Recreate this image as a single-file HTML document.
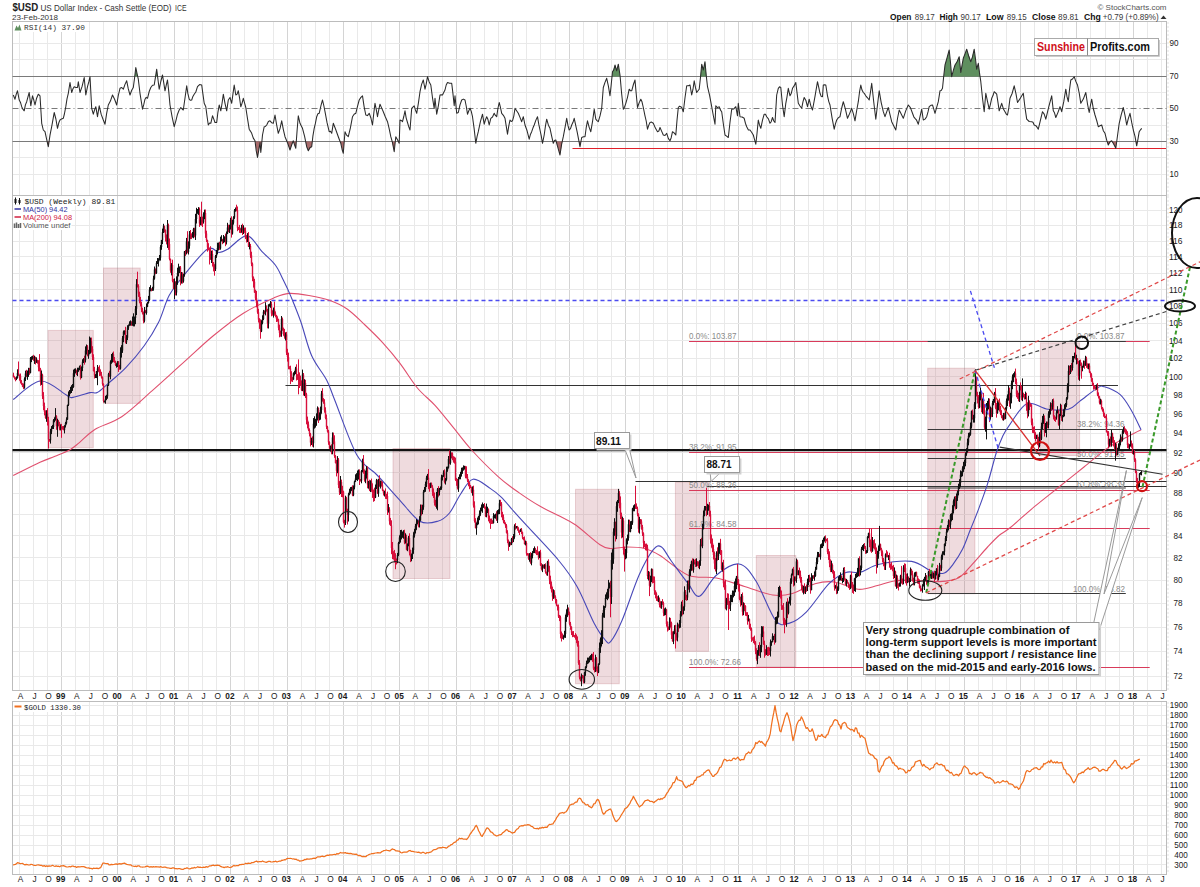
<!DOCTYPE html><html><head><meta charset="utf-8"><style>html,body{margin:0;padding:0;background:#fff;}svg{display:block;}text{font-family:"Liberation Sans",sans-serif;}</style></head><body>
<svg width="1200" height="887" viewBox="0 0 1200 887">
<rect x="0" y="0" width="1200" height="887" fill="#fff"/>
<path d="M19.5 21.5V195.5M19.5 195.5V690.5M19.5 701.5V874.5M33.5 21.5V195.5M33.5 195.5V690.5M33.5 701.5V874.5M47.5 21.5V195.5M47.5 195.5V690.5M47.5 701.5V874.5M75.5 21.5V195.5M75.5 195.5V690.5M75.5 701.5V874.5M89.5 21.5V195.5M89.5 195.5V690.5M89.5 701.5V874.5M103.5 21.5V195.5M103.5 195.5V690.5M103.5 701.5V874.5M132.5 21.5V195.5M132.5 195.5V690.5M132.5 701.5V874.5M146.5 21.5V195.5M146.5 195.5V690.5M146.5 701.5V874.5M160.5 21.5V195.5M160.5 195.5V690.5M160.5 701.5V874.5M188.5 21.5V195.5M188.5 195.5V690.5M188.5 701.5V874.5M202.5 21.5V195.5M202.5 195.5V690.5M202.5 701.5V874.5M216.5 21.5V195.5M216.5 195.5V690.5M216.5 701.5V874.5M244.5 21.5V195.5M244.5 195.5V690.5M244.5 701.5V874.5M258.5 21.5V195.5M258.5 195.5V690.5M258.5 701.5V874.5M273.5 21.5V195.5M273.5 195.5V690.5M273.5 701.5V874.5M301.5 21.5V195.5M301.5 195.5V690.5M301.5 701.5V874.5M315.5 21.5V195.5M315.5 195.5V690.5M315.5 701.5V874.5M329.5 21.5V195.5M329.5 195.5V690.5M329.5 701.5V874.5M357.5 21.5V195.5M357.5 195.5V690.5M357.5 701.5V874.5M371.5 21.5V195.5M371.5 195.5V690.5M371.5 701.5V874.5M385.5 21.5V195.5M385.5 195.5V690.5M385.5 701.5V874.5M414.5 21.5V195.5M414.5 195.5V690.5M414.5 701.5V874.5M428.5 21.5V195.5M428.5 195.5V690.5M428.5 701.5V874.5M442.5 21.5V195.5M442.5 195.5V690.5M442.5 701.5V874.5M470.5 21.5V195.5M470.5 195.5V690.5M470.5 701.5V874.5M484.5 21.5V195.5M484.5 195.5V690.5M484.5 701.5V874.5M498.5 21.5V195.5M498.5 195.5V690.5M498.5 701.5V874.5M526.5 21.5V195.5M526.5 195.5V690.5M526.5 701.5V874.5M540.5 21.5V195.5M540.5 195.5V690.5M540.5 701.5V874.5M555.5 21.5V195.5M555.5 195.5V690.5M555.5 701.5V874.5M583.5 21.5V195.5M583.5 195.5V690.5M583.5 701.5V874.5M597.5 21.5V195.5M597.5 195.5V690.5M597.5 701.5V874.5M611.5 21.5V195.5M611.5 195.5V690.5M611.5 701.5V874.5M639.5 21.5V195.5M639.5 195.5V690.5M639.5 701.5V874.5M653.5 21.5V195.5M653.5 195.5V690.5M653.5 701.5V874.5M667.5 21.5V195.5M667.5 195.5V690.5M667.5 701.5V874.5M696.5 21.5V195.5M696.5 195.5V690.5M696.5 701.5V874.5M710.5 21.5V195.5M710.5 195.5V690.5M710.5 701.5V874.5M724.5 21.5V195.5M724.5 195.5V690.5M724.5 701.5V874.5M752.5 21.5V195.5M752.5 195.5V690.5M752.5 701.5V874.5M766.5 21.5V195.5M766.5 195.5V690.5M766.5 701.5V874.5M780.5 21.5V195.5M780.5 195.5V690.5M780.5 701.5V874.5M808.5 21.5V195.5M808.5 195.5V690.5M808.5 701.5V874.5M823.5 21.5V195.5M823.5 195.5V690.5M823.5 701.5V874.5M837.5 21.5V195.5M837.5 195.5V690.5M837.5 701.5V874.5M865.5 21.5V195.5M865.5 195.5V690.5M865.5 701.5V874.5M879.5 21.5V195.5M879.5 195.5V690.5M879.5 701.5V874.5M893.5 21.5V195.5M893.5 195.5V690.5M893.5 701.5V874.5M921.5 21.5V195.5M921.5 195.5V690.5M921.5 701.5V874.5M935.5 21.5V195.5M935.5 195.5V690.5M935.5 701.5V874.5M949.5 21.5V195.5M949.5 195.5V690.5M949.5 701.5V874.5M978.5 21.5V195.5M978.5 195.5V690.5M978.5 701.5V874.5M992.5 21.5V195.5M992.5 195.5V690.5M992.5 701.5V874.5M1006.5 21.5V195.5M1006.5 195.5V690.5M1006.5 701.5V874.5M1034.5 21.5V195.5M1034.5 195.5V690.5M1034.5 701.5V874.5M1048.5 21.5V195.5M1048.5 195.5V690.5M1048.5 701.5V874.5M1062.5 21.5V195.5M1062.5 195.5V690.5M1062.5 701.5V874.5M1090.5 21.5V195.5M1090.5 195.5V690.5M1090.5 701.5V874.5M1105.5 21.5V195.5M1105.5 195.5V690.5M1105.5 701.5V874.5M1119.5 21.5V195.5M1119.5 195.5V690.5M1119.5 701.5V874.5M1147.5 21.5V195.5M1147.5 195.5V690.5M1147.5 701.5V874.5M1161.5 21.5V195.5M1161.5 195.5V690.5M1161.5 701.5V874.5" stroke="#e9e9e9" stroke-width="1" fill="none"/>
<path d="M61.5 21.5V195.5M61.5 195.5V690.5M61.5 701.5V874.5M117.5 21.5V195.5M117.5 195.5V690.5M117.5 701.5V874.5M174.5 21.5V195.5M174.5 195.5V690.5M174.5 701.5V874.5M230.5 21.5V195.5M230.5 195.5V690.5M230.5 701.5V874.5M287.5 21.5V195.5M287.5 195.5V690.5M287.5 701.5V874.5M343.5 21.5V195.5M343.5 195.5V690.5M343.5 701.5V874.5M399.5 21.5V195.5M399.5 195.5V690.5M399.5 701.5V874.5M456.5 21.5V195.5M456.5 195.5V690.5M456.5 701.5V874.5M512.5 21.5V195.5M512.5 195.5V690.5M512.5 701.5V874.5M569.5 21.5V195.5M569.5 195.5V690.5M569.5 701.5V874.5M625.5 21.5V195.5M625.5 195.5V690.5M625.5 701.5V874.5M682.5 21.5V195.5M682.5 195.5V690.5M682.5 701.5V874.5M738.5 21.5V195.5M738.5 195.5V690.5M738.5 701.5V874.5M794.5 21.5V195.5M794.5 195.5V690.5M794.5 701.5V874.5M851.5 21.5V195.5M851.5 195.5V690.5M851.5 701.5V874.5M907.5 21.5V195.5M907.5 195.5V690.5M907.5 701.5V874.5M964.5 21.5V195.5M964.5 195.5V690.5M964.5 701.5V874.5M1020.5 21.5V195.5M1020.5 195.5V690.5M1020.5 701.5V874.5M1076.5 21.5V195.5M1076.5 195.5V690.5M1076.5 701.5V874.5M1133.5 21.5V195.5M1133.5 195.5V690.5M1133.5 701.5V874.5" stroke="#d4d4d4" stroke-width="1" fill="none"/>
<path d="M12.5 174.5H1166.5M12.5 157.5H1166.5M12.5 125.5H1166.5M12.5 92.5H1166.5M12.5 59.5H1166.5M12.5 43.5H1166.5" stroke="#e9e9e9" stroke-width="1" fill="none" />
<path d="M12.5 676.5H1166.5M12.5 651.5H1166.5M12.5 627.5H1166.5M12.5 603.5H1166.5M12.5 580.5H1166.5M12.5 557.5H1166.5M12.5 535.5H1166.5M12.5 514.5H1166.5M12.5 493.5H1166.5M12.5 472.5H1166.5M12.5 452.5H1166.5M12.5 433.5H1166.5M12.5 413.5H1166.5M12.5 395.5H1166.5M12.5 376.5H1166.5M12.5 358.5H1166.5M12.5 340.5H1166.5M12.5 323.5H1166.5M12.5 306.5H1166.5M12.5 289.5H1166.5M12.5 273.5H1166.5M12.5 256.5H1166.5M12.5 241.5H1166.5M12.5 225.5H1166.5M12.5 210.5H1166.5" stroke="#e9e9e9" stroke-width="1" fill="none" />
<path d="M12.5 864.5H1166.5M12.5 855.5H1166.5M12.5 845.5H1166.5M12.5 835.5H1166.5M12.5 825.5H1166.5M12.5 815.5H1166.5M12.5 805.5H1166.5M12.5 795.5H1166.5M12.5 785.5H1166.5M12.5 775.5H1166.5M12.5 765.5H1166.5M12.5 755.5H1166.5M12.5 745.5H1166.5M12.5 735.5H1166.5M12.5 725.5H1166.5M12.5 715.5H1166.5M12.5 705.5H1166.5" stroke="#e9e9e9" stroke-width="1" fill="none" />
<rect x="12.5" y="21.5" width="1154.0" height="174.0" fill="none" stroke="#bcbcbc" stroke-width="1"/>
<rect x="12.5" y="195.5" width="1154.0" height="495.0" fill="none" stroke="#bcbcbc" stroke-width="1"/>
<rect x="12.5" y="701.5" width="1154.0" height="173.0" fill="none" stroke="#bcbcbc" stroke-width="1"/>
<path d="M1168.0 22.5V195.5" stroke="#c4c4c4" stroke-width="1" stroke-dasharray="1,3" fill="none"/>
<path d="M1168.0 196.5V690.5" stroke="#c4c4c4" stroke-width="1" stroke-dasharray="1,3" fill="none"/>
<path d="M1168.0 702.5V874.5" stroke="#c4c4c4" stroke-width="1" stroke-dasharray="1,3" fill="none"/>
<text x="12.5" y="11" font-size="11" font-weight="bold" fill="#222" transform="translate(12.5 0) scale(0.88 1) translate(-12.5 0)">$USD</text>
<text x="40.5" y="10.5" font-size="8.6" fill="#333" textLength="131" lengthAdjust="spacingAndGlyphs">US Dollar Index - Cash Settle (EOD)</text>
<text x="175" y="10.5" font-size="8.6" fill="#333" textLength="11.5" lengthAdjust="spacingAndGlyphs">ICE</text>
<text x="12" y="20" font-size="8" fill="#333" textLength="46" lengthAdjust="spacingAndGlyphs">23-Feb-2018</text>
<text x="1166.5" y="9.5" font-size="8" fill="#555" text-anchor="end" textLength="69" lengthAdjust="spacingAndGlyphs">© StockCharts.com</text>
<text x="890.1" y="20.2" font-size="8.6" fill="#111" font-weight="bold" textLength="21.4" lengthAdjust="spacingAndGlyphs">Open</text>
<text x="914.7" y="20.2" font-size="8.6" fill="#3a3a3a" textLength="20.0" lengthAdjust="spacingAndGlyphs">89.17</text>
<text x="939.5" y="20.2" font-size="8.6" fill="#111" font-weight="bold" textLength="18.4" lengthAdjust="spacingAndGlyphs">High</text>
<text x="960.5" y="20.2" font-size="8.6" fill="#3a3a3a" textLength="20.3" lengthAdjust="spacingAndGlyphs">90.17</text>
<text x="985.9" y="20.2" font-size="8.6" fill="#111" font-weight="bold" textLength="17.6" lengthAdjust="spacingAndGlyphs">Low</text>
<text x="1006.7" y="20.2" font-size="8.6" fill="#3a3a3a" textLength="20.0" lengthAdjust="spacingAndGlyphs">89.15</text>
<text x="1032.0" y="20.2" font-size="8.6" fill="#111" font-weight="bold" textLength="23.5" lengthAdjust="spacingAndGlyphs">Close</text>
<text x="1058.1" y="20.2" font-size="8.6" fill="#3a3a3a" textLength="20.6" lengthAdjust="spacingAndGlyphs">89.81</text>
<text x="1084.0" y="20.2" font-size="8.6" fill="#111" font-weight="bold" textLength="16.8" lengthAdjust="spacingAndGlyphs">Chg</text>
<text x="1102.7" y="20.2" font-size="8.6" fill="#3a3a3a" textLength="56.0" lengthAdjust="spacingAndGlyphs">+0.79 (+0.89%)</text>
<path d="M1160.5 19 L1163.5 15.5 L1166.5 19Z" fill="#333"/>
<text x="1178.5" y="46.4" font-size="8.6" text-anchor="end" fill="#1a1a1a" textLength="9.0" lengthAdjust="spacingAndGlyphs">90</text>
<text x="1178.5" y="79.4" font-size="8.6" text-anchor="end" fill="#1a1a1a" textLength="9.0" lengthAdjust="spacingAndGlyphs">70</text>
<text x="1178.5" y="111.4" font-size="8.6" text-anchor="end" fill="#1a1a1a" textLength="9.0" lengthAdjust="spacingAndGlyphs">50</text>
<text x="1178.5" y="144.4" font-size="8.6" text-anchor="end" fill="#1a1a1a" textLength="9.0" lengthAdjust="spacingAndGlyphs">30</text>
<text x="1178.5" y="177.4" font-size="8.6" text-anchor="end" fill="#1a1a1a" textLength="9.0" lengthAdjust="spacingAndGlyphs">10</text>
<text x="1182.5" y="679.4" font-size="8.6" text-anchor="end" fill="#1a1a1a" textLength="9.0" lengthAdjust="spacingAndGlyphs">72</text>
<text x="1182.5" y="654.4" font-size="8.6" text-anchor="end" fill="#1a1a1a" textLength="9.0" lengthAdjust="spacingAndGlyphs">74</text>
<text x="1182.5" y="630.0" font-size="8.6" text-anchor="end" fill="#1a1a1a" textLength="9.0" lengthAdjust="spacingAndGlyphs">76</text>
<text x="1182.5" y="606.3" font-size="8.6" text-anchor="end" fill="#1a1a1a" textLength="9.0" lengthAdjust="spacingAndGlyphs">78</text>
<text x="1182.5" y="583.2" font-size="8.6" text-anchor="end" fill="#1a1a1a" textLength="9.0" lengthAdjust="spacingAndGlyphs">80</text>
<text x="1182.5" y="560.7" font-size="8.6" text-anchor="end" fill="#1a1a1a" textLength="9.0" lengthAdjust="spacingAndGlyphs">82</text>
<text x="1182.5" y="538.7" font-size="8.6" text-anchor="end" fill="#1a1a1a" textLength="9.0" lengthAdjust="spacingAndGlyphs">84</text>
<text x="1182.5" y="517.2" font-size="8.6" text-anchor="end" fill="#1a1a1a" textLength="9.0" lengthAdjust="spacingAndGlyphs">86</text>
<text x="1182.5" y="496.2" font-size="8.6" text-anchor="end" fill="#1a1a1a" textLength="9.0" lengthAdjust="spacingAndGlyphs">88</text>
<text x="1182.5" y="475.7" font-size="8.6" text-anchor="end" fill="#1a1a1a" textLength="9.0" lengthAdjust="spacingAndGlyphs">90</text>
<text x="1182.5" y="455.6" font-size="8.6" text-anchor="end" fill="#1a1a1a" textLength="9.0" lengthAdjust="spacingAndGlyphs">92</text>
<text x="1182.5" y="436.0" font-size="8.6" text-anchor="end" fill="#1a1a1a" textLength="9.0" lengthAdjust="spacingAndGlyphs">94</text>
<text x="1182.5" y="416.7" font-size="8.6" text-anchor="end" fill="#1a1a1a" textLength="9.0" lengthAdjust="spacingAndGlyphs">96</text>
<text x="1182.5" y="397.9" font-size="8.6" text-anchor="end" fill="#1a1a1a" textLength="9.0" lengthAdjust="spacingAndGlyphs">98</text>
<text x="1182.5" y="379.5" font-size="8.6" text-anchor="end" fill="#1a1a1a" textLength="13.5" lengthAdjust="spacingAndGlyphs">100</text>
<text x="1182.5" y="361.4" font-size="8.6" text-anchor="end" fill="#1a1a1a" textLength="13.5" lengthAdjust="spacingAndGlyphs">102</text>
<text x="1182.5" y="343.7" font-size="8.6" text-anchor="end" fill="#1a1a1a" textLength="13.5" lengthAdjust="spacingAndGlyphs">104</text>
<text x="1182.5" y="326.3" font-size="8.6" text-anchor="end" fill="#1a1a1a" textLength="13.5" lengthAdjust="spacingAndGlyphs">106</text>
<text x="1182.5" y="309.2" font-size="8.6" text-anchor="end" fill="#1a1a1a" textLength="13.5" lengthAdjust="spacingAndGlyphs">108</text>
<text x="1182.5" y="292.5" font-size="8.6" text-anchor="end" fill="#1a1a1a" textLength="13.5" lengthAdjust="spacingAndGlyphs">110</text>
<text x="1182.5" y="276.0" font-size="8.6" text-anchor="end" fill="#1a1a1a" textLength="13.5" lengthAdjust="spacingAndGlyphs">112</text>
<text x="1182.5" y="259.8" font-size="8.6" text-anchor="end" fill="#1a1a1a" textLength="13.5" lengthAdjust="spacingAndGlyphs">114</text>
<text x="1182.5" y="244.0" font-size="8.6" text-anchor="end" fill="#1a1a1a" textLength="13.5" lengthAdjust="spacingAndGlyphs">116</text>
<text x="1182.5" y="228.4" font-size="8.6" text-anchor="end" fill="#1a1a1a" textLength="13.5" lengthAdjust="spacingAndGlyphs">118</text>
<text x="1182.5" y="213.0" font-size="8.6" text-anchor="end" fill="#1a1a1a" textLength="13.5" lengthAdjust="spacingAndGlyphs">120</text>
<text x="1187.8" y="867.9" font-size="8.6" text-anchor="end" fill="#1a1a1a" textLength="13.5" lengthAdjust="spacingAndGlyphs">300</text>
<text x="1187.8" y="857.9" font-size="8.6" text-anchor="end" fill="#1a1a1a" textLength="13.5" lengthAdjust="spacingAndGlyphs">400</text>
<text x="1187.8" y="847.9" font-size="8.6" text-anchor="end" fill="#1a1a1a" textLength="13.5" lengthAdjust="spacingAndGlyphs">500</text>
<text x="1187.8" y="837.9" font-size="8.6" text-anchor="end" fill="#1a1a1a" textLength="13.5" lengthAdjust="spacingAndGlyphs">600</text>
<text x="1187.8" y="828.0" font-size="8.6" text-anchor="end" fill="#1a1a1a" textLength="13.5" lengthAdjust="spacingAndGlyphs">700</text>
<text x="1187.8" y="818.0" font-size="8.6" text-anchor="end" fill="#1a1a1a" textLength="13.5" lengthAdjust="spacingAndGlyphs">800</text>
<text x="1187.8" y="808.0" font-size="8.6" text-anchor="end" fill="#1a1a1a" textLength="13.5" lengthAdjust="spacingAndGlyphs">900</text>
<text x="1187.8" y="798.0" font-size="8.6" text-anchor="end" fill="#1a1a1a" textLength="18.0" lengthAdjust="spacingAndGlyphs">1000</text>
<text x="1187.8" y="788.0" font-size="8.6" text-anchor="end" fill="#1a1a1a" textLength="18.0" lengthAdjust="spacingAndGlyphs">1100</text>
<text x="1187.8" y="778.1" font-size="8.6" text-anchor="end" fill="#1a1a1a" textLength="18.0" lengthAdjust="spacingAndGlyphs">1200</text>
<text x="1187.8" y="768.1" font-size="8.6" text-anchor="end" fill="#1a1a1a" textLength="18.0" lengthAdjust="spacingAndGlyphs">1300</text>
<text x="1187.8" y="758.1" font-size="8.6" text-anchor="end" fill="#1a1a1a" textLength="18.0" lengthAdjust="spacingAndGlyphs">1400</text>
<text x="1187.8" y="748.1" font-size="8.6" text-anchor="end" fill="#1a1a1a" textLength="18.0" lengthAdjust="spacingAndGlyphs">1500</text>
<text x="1187.8" y="738.1" font-size="8.6" text-anchor="end" fill="#1a1a1a" textLength="18.0" lengthAdjust="spacingAndGlyphs">1600</text>
<text x="1187.8" y="728.2" font-size="8.6" text-anchor="end" fill="#1a1a1a" textLength="18.0" lengthAdjust="spacingAndGlyphs">1700</text>
<text x="1187.8" y="718.2" font-size="8.6" text-anchor="end" fill="#1a1a1a" textLength="18.0" lengthAdjust="spacingAndGlyphs">1800</text>
<text x="1187.8" y="708.2" font-size="8.6" text-anchor="end" fill="#1a1a1a" textLength="18.0" lengthAdjust="spacingAndGlyphs">1900</text>
<text x="20.4" y="698.5" font-size="8.3" text-anchor="middle" fill="#1a1a1a">A</text>
<text x="20.4" y="882.0" font-size="8.3" text-anchor="middle" fill="#1a1a1a">A</text>
<text x="34.5" y="698.5" font-size="8.3" text-anchor="middle" fill="#1a1a1a">J</text>
<text x="34.5" y="882.0" font-size="8.3" text-anchor="middle" fill="#1a1a1a">J</text>
<text x="48.6" y="698.5" font-size="8.3" text-anchor="middle" fill="#1a1a1a">O</text>
<text x="48.6" y="882.0" font-size="8.3" text-anchor="middle" fill="#1a1a1a">O</text>
<text x="60.7" y="698.5" font-size="8.3" text-anchor="middle" fill="#1a1a1a" font-weight="bold">99</text>
<text x="60.7" y="882.0" font-size="8.3" text-anchor="middle" fill="#1a1a1a" font-weight="bold">99</text>
<text x="76.8" y="698.5" font-size="8.3" text-anchor="middle" fill="#1a1a1a">A</text>
<text x="76.8" y="882.0" font-size="8.3" text-anchor="middle" fill="#1a1a1a">A</text>
<text x="90.9" y="698.5" font-size="8.3" text-anchor="middle" fill="#1a1a1a">J</text>
<text x="90.9" y="882.0" font-size="8.3" text-anchor="middle" fill="#1a1a1a">J</text>
<text x="105.0" y="698.5" font-size="8.3" text-anchor="middle" fill="#1a1a1a">O</text>
<text x="105.0" y="882.0" font-size="8.3" text-anchor="middle" fill="#1a1a1a">O</text>
<text x="117.1" y="698.5" font-size="8.3" text-anchor="middle" fill="#1a1a1a" font-weight="bold">00</text>
<text x="117.1" y="882.0" font-size="8.3" text-anchor="middle" fill="#1a1a1a" font-weight="bold">00</text>
<text x="133.2" y="698.5" font-size="8.3" text-anchor="middle" fill="#1a1a1a">A</text>
<text x="133.2" y="882.0" font-size="8.3" text-anchor="middle" fill="#1a1a1a">A</text>
<text x="147.3" y="698.5" font-size="8.3" text-anchor="middle" fill="#1a1a1a">J</text>
<text x="147.3" y="882.0" font-size="8.3" text-anchor="middle" fill="#1a1a1a">J</text>
<text x="161.4" y="698.5" font-size="8.3" text-anchor="middle" fill="#1a1a1a">O</text>
<text x="161.4" y="882.0" font-size="8.3" text-anchor="middle" fill="#1a1a1a">O</text>
<text x="173.5" y="698.5" font-size="8.3" text-anchor="middle" fill="#1a1a1a" font-weight="bold">01</text>
<text x="173.5" y="882.0" font-size="8.3" text-anchor="middle" fill="#1a1a1a" font-weight="bold">01</text>
<text x="189.6" y="698.5" font-size="8.3" text-anchor="middle" fill="#1a1a1a">A</text>
<text x="189.6" y="882.0" font-size="8.3" text-anchor="middle" fill="#1a1a1a">A</text>
<text x="203.7" y="698.5" font-size="8.3" text-anchor="middle" fill="#1a1a1a">J</text>
<text x="203.7" y="882.0" font-size="8.3" text-anchor="middle" fill="#1a1a1a">J</text>
<text x="217.8" y="698.5" font-size="8.3" text-anchor="middle" fill="#1a1a1a">O</text>
<text x="217.8" y="882.0" font-size="8.3" text-anchor="middle" fill="#1a1a1a">O</text>
<text x="229.9" y="698.5" font-size="8.3" text-anchor="middle" fill="#1a1a1a" font-weight="bold">02</text>
<text x="229.9" y="882.0" font-size="8.3" text-anchor="middle" fill="#1a1a1a" font-weight="bold">02</text>
<text x="246.0" y="698.5" font-size="8.3" text-anchor="middle" fill="#1a1a1a">A</text>
<text x="246.0" y="882.0" font-size="8.3" text-anchor="middle" fill="#1a1a1a">A</text>
<text x="260.1" y="698.5" font-size="8.3" text-anchor="middle" fill="#1a1a1a">J</text>
<text x="260.1" y="882.0" font-size="8.3" text-anchor="middle" fill="#1a1a1a">J</text>
<text x="274.2" y="698.5" font-size="8.3" text-anchor="middle" fill="#1a1a1a">O</text>
<text x="274.2" y="882.0" font-size="8.3" text-anchor="middle" fill="#1a1a1a">O</text>
<text x="286.3" y="698.5" font-size="8.3" text-anchor="middle" fill="#1a1a1a" font-weight="bold">03</text>
<text x="286.3" y="882.0" font-size="8.3" text-anchor="middle" fill="#1a1a1a" font-weight="bold">03</text>
<text x="302.4" y="698.5" font-size="8.3" text-anchor="middle" fill="#1a1a1a">A</text>
<text x="302.4" y="882.0" font-size="8.3" text-anchor="middle" fill="#1a1a1a">A</text>
<text x="316.5" y="698.5" font-size="8.3" text-anchor="middle" fill="#1a1a1a">J</text>
<text x="316.5" y="882.0" font-size="8.3" text-anchor="middle" fill="#1a1a1a">J</text>
<text x="330.6" y="698.5" font-size="8.3" text-anchor="middle" fill="#1a1a1a">O</text>
<text x="330.6" y="882.0" font-size="8.3" text-anchor="middle" fill="#1a1a1a">O</text>
<text x="342.7" y="698.5" font-size="8.3" text-anchor="middle" fill="#1a1a1a" font-weight="bold">04</text>
<text x="342.7" y="882.0" font-size="8.3" text-anchor="middle" fill="#1a1a1a" font-weight="bold">04</text>
<text x="358.9" y="698.5" font-size="8.3" text-anchor="middle" fill="#1a1a1a">A</text>
<text x="358.9" y="882.0" font-size="8.3" text-anchor="middle" fill="#1a1a1a">A</text>
<text x="373.0" y="698.5" font-size="8.3" text-anchor="middle" fill="#1a1a1a">J</text>
<text x="373.0" y="882.0" font-size="8.3" text-anchor="middle" fill="#1a1a1a">J</text>
<text x="387.1" y="698.5" font-size="8.3" text-anchor="middle" fill="#1a1a1a">O</text>
<text x="387.1" y="882.0" font-size="8.3" text-anchor="middle" fill="#1a1a1a">O</text>
<text x="399.2" y="698.5" font-size="8.3" text-anchor="middle" fill="#1a1a1a" font-weight="bold">05</text>
<text x="399.2" y="882.0" font-size="8.3" text-anchor="middle" fill="#1a1a1a" font-weight="bold">05</text>
<text x="415.3" y="698.5" font-size="8.3" text-anchor="middle" fill="#1a1a1a">A</text>
<text x="415.3" y="882.0" font-size="8.3" text-anchor="middle" fill="#1a1a1a">A</text>
<text x="429.4" y="698.5" font-size="8.3" text-anchor="middle" fill="#1a1a1a">J</text>
<text x="429.4" y="882.0" font-size="8.3" text-anchor="middle" fill="#1a1a1a">J</text>
<text x="443.5" y="698.5" font-size="8.3" text-anchor="middle" fill="#1a1a1a">O</text>
<text x="443.5" y="882.0" font-size="8.3" text-anchor="middle" fill="#1a1a1a">O</text>
<text x="455.6" y="698.5" font-size="8.3" text-anchor="middle" fill="#1a1a1a" font-weight="bold">06</text>
<text x="455.6" y="882.0" font-size="8.3" text-anchor="middle" fill="#1a1a1a" font-weight="bold">06</text>
<text x="471.7" y="698.5" font-size="8.3" text-anchor="middle" fill="#1a1a1a">A</text>
<text x="471.7" y="882.0" font-size="8.3" text-anchor="middle" fill="#1a1a1a">A</text>
<text x="485.8" y="698.5" font-size="8.3" text-anchor="middle" fill="#1a1a1a">J</text>
<text x="485.8" y="882.0" font-size="8.3" text-anchor="middle" fill="#1a1a1a">J</text>
<text x="499.9" y="698.5" font-size="8.3" text-anchor="middle" fill="#1a1a1a">O</text>
<text x="499.9" y="882.0" font-size="8.3" text-anchor="middle" fill="#1a1a1a">O</text>
<text x="512.0" y="698.5" font-size="8.3" text-anchor="middle" fill="#1a1a1a" font-weight="bold">07</text>
<text x="512.0" y="882.0" font-size="8.3" text-anchor="middle" fill="#1a1a1a" font-weight="bold">07</text>
<text x="528.1" y="698.5" font-size="8.3" text-anchor="middle" fill="#1a1a1a">A</text>
<text x="528.1" y="882.0" font-size="8.3" text-anchor="middle" fill="#1a1a1a">A</text>
<text x="542.2" y="698.5" font-size="8.3" text-anchor="middle" fill="#1a1a1a">J</text>
<text x="542.2" y="882.0" font-size="8.3" text-anchor="middle" fill="#1a1a1a">J</text>
<text x="556.3" y="698.5" font-size="8.3" text-anchor="middle" fill="#1a1a1a">O</text>
<text x="556.3" y="882.0" font-size="8.3" text-anchor="middle" fill="#1a1a1a">O</text>
<text x="568.4" y="698.5" font-size="8.3" text-anchor="middle" fill="#1a1a1a" font-weight="bold">08</text>
<text x="568.4" y="882.0" font-size="8.3" text-anchor="middle" fill="#1a1a1a" font-weight="bold">08</text>
<text x="584.5" y="698.5" font-size="8.3" text-anchor="middle" fill="#1a1a1a">A</text>
<text x="584.5" y="882.0" font-size="8.3" text-anchor="middle" fill="#1a1a1a">A</text>
<text x="598.6" y="698.5" font-size="8.3" text-anchor="middle" fill="#1a1a1a">J</text>
<text x="598.6" y="882.0" font-size="8.3" text-anchor="middle" fill="#1a1a1a">J</text>
<text x="612.7" y="698.5" font-size="8.3" text-anchor="middle" fill="#1a1a1a">O</text>
<text x="612.7" y="882.0" font-size="8.3" text-anchor="middle" fill="#1a1a1a">O</text>
<text x="624.8" y="698.5" font-size="8.3" text-anchor="middle" fill="#1a1a1a" font-weight="bold">09</text>
<text x="624.8" y="882.0" font-size="8.3" text-anchor="middle" fill="#1a1a1a" font-weight="bold">09</text>
<text x="640.9" y="698.5" font-size="8.3" text-anchor="middle" fill="#1a1a1a">A</text>
<text x="640.9" y="882.0" font-size="8.3" text-anchor="middle" fill="#1a1a1a">A</text>
<text x="655.0" y="698.5" font-size="8.3" text-anchor="middle" fill="#1a1a1a">J</text>
<text x="655.0" y="882.0" font-size="8.3" text-anchor="middle" fill="#1a1a1a">J</text>
<text x="669.1" y="698.5" font-size="8.3" text-anchor="middle" fill="#1a1a1a">O</text>
<text x="669.1" y="882.0" font-size="8.3" text-anchor="middle" fill="#1a1a1a">O</text>
<text x="681.2" y="698.5" font-size="8.3" text-anchor="middle" fill="#1a1a1a" font-weight="bold">10</text>
<text x="681.2" y="882.0" font-size="8.3" text-anchor="middle" fill="#1a1a1a" font-weight="bold">10</text>
<text x="697.3" y="698.5" font-size="8.3" text-anchor="middle" fill="#1a1a1a">A</text>
<text x="697.3" y="882.0" font-size="8.3" text-anchor="middle" fill="#1a1a1a">A</text>
<text x="711.4" y="698.5" font-size="8.3" text-anchor="middle" fill="#1a1a1a">J</text>
<text x="711.4" y="882.0" font-size="8.3" text-anchor="middle" fill="#1a1a1a">J</text>
<text x="725.5" y="698.5" font-size="8.3" text-anchor="middle" fill="#1a1a1a">O</text>
<text x="725.5" y="882.0" font-size="8.3" text-anchor="middle" fill="#1a1a1a">O</text>
<text x="737.6" y="698.5" font-size="8.3" text-anchor="middle" fill="#1a1a1a" font-weight="bold">11</text>
<text x="737.6" y="882.0" font-size="8.3" text-anchor="middle" fill="#1a1a1a" font-weight="bold">11</text>
<text x="753.7" y="698.5" font-size="8.3" text-anchor="middle" fill="#1a1a1a">A</text>
<text x="753.7" y="882.0" font-size="8.3" text-anchor="middle" fill="#1a1a1a">A</text>
<text x="767.8" y="698.5" font-size="8.3" text-anchor="middle" fill="#1a1a1a">J</text>
<text x="767.8" y="882.0" font-size="8.3" text-anchor="middle" fill="#1a1a1a">J</text>
<text x="781.9" y="698.5" font-size="8.3" text-anchor="middle" fill="#1a1a1a">O</text>
<text x="781.9" y="882.0" font-size="8.3" text-anchor="middle" fill="#1a1a1a">O</text>
<text x="794.0" y="698.5" font-size="8.3" text-anchor="middle" fill="#1a1a1a" font-weight="bold">12</text>
<text x="794.0" y="882.0" font-size="8.3" text-anchor="middle" fill="#1a1a1a" font-weight="bold">12</text>
<text x="810.1" y="698.5" font-size="8.3" text-anchor="middle" fill="#1a1a1a">A</text>
<text x="810.1" y="882.0" font-size="8.3" text-anchor="middle" fill="#1a1a1a">A</text>
<text x="824.2" y="698.5" font-size="8.3" text-anchor="middle" fill="#1a1a1a">J</text>
<text x="824.2" y="882.0" font-size="8.3" text-anchor="middle" fill="#1a1a1a">J</text>
<text x="838.3" y="698.5" font-size="8.3" text-anchor="middle" fill="#1a1a1a">O</text>
<text x="838.3" y="882.0" font-size="8.3" text-anchor="middle" fill="#1a1a1a">O</text>
<text x="850.4" y="698.5" font-size="8.3" text-anchor="middle" fill="#1a1a1a" font-weight="bold">13</text>
<text x="850.4" y="882.0" font-size="8.3" text-anchor="middle" fill="#1a1a1a" font-weight="bold">13</text>
<text x="866.5" y="698.5" font-size="8.3" text-anchor="middle" fill="#1a1a1a">A</text>
<text x="866.5" y="882.0" font-size="8.3" text-anchor="middle" fill="#1a1a1a">A</text>
<text x="880.6" y="698.5" font-size="8.3" text-anchor="middle" fill="#1a1a1a">J</text>
<text x="880.6" y="882.0" font-size="8.3" text-anchor="middle" fill="#1a1a1a">J</text>
<text x="894.7" y="698.5" font-size="8.3" text-anchor="middle" fill="#1a1a1a">O</text>
<text x="894.7" y="882.0" font-size="8.3" text-anchor="middle" fill="#1a1a1a">O</text>
<text x="906.9" y="698.5" font-size="8.3" text-anchor="middle" fill="#1a1a1a" font-weight="bold">14</text>
<text x="906.9" y="882.0" font-size="8.3" text-anchor="middle" fill="#1a1a1a" font-weight="bold">14</text>
<text x="923.0" y="698.5" font-size="8.3" text-anchor="middle" fill="#1a1a1a">A</text>
<text x="923.0" y="882.0" font-size="8.3" text-anchor="middle" fill="#1a1a1a">A</text>
<text x="937.1" y="698.5" font-size="8.3" text-anchor="middle" fill="#1a1a1a">J</text>
<text x="937.1" y="882.0" font-size="8.3" text-anchor="middle" fill="#1a1a1a">J</text>
<text x="951.2" y="698.5" font-size="8.3" text-anchor="middle" fill="#1a1a1a">O</text>
<text x="951.2" y="882.0" font-size="8.3" text-anchor="middle" fill="#1a1a1a">O</text>
<text x="963.3" y="698.5" font-size="8.3" text-anchor="middle" fill="#1a1a1a" font-weight="bold">15</text>
<text x="963.3" y="882.0" font-size="8.3" text-anchor="middle" fill="#1a1a1a" font-weight="bold">15</text>
<text x="979.4" y="698.5" font-size="8.3" text-anchor="middle" fill="#1a1a1a">A</text>
<text x="979.4" y="882.0" font-size="8.3" text-anchor="middle" fill="#1a1a1a">A</text>
<text x="993.5" y="698.5" font-size="8.3" text-anchor="middle" fill="#1a1a1a">J</text>
<text x="993.5" y="882.0" font-size="8.3" text-anchor="middle" fill="#1a1a1a">J</text>
<text x="1007.6" y="698.5" font-size="8.3" text-anchor="middle" fill="#1a1a1a">O</text>
<text x="1007.6" y="882.0" font-size="8.3" text-anchor="middle" fill="#1a1a1a">O</text>
<text x="1019.7" y="698.5" font-size="8.3" text-anchor="middle" fill="#1a1a1a" font-weight="bold">16</text>
<text x="1019.7" y="882.0" font-size="8.3" text-anchor="middle" fill="#1a1a1a" font-weight="bold">16</text>
<text x="1035.8" y="698.5" font-size="8.3" text-anchor="middle" fill="#1a1a1a">A</text>
<text x="1035.8" y="882.0" font-size="8.3" text-anchor="middle" fill="#1a1a1a">A</text>
<text x="1049.9" y="698.5" font-size="8.3" text-anchor="middle" fill="#1a1a1a">J</text>
<text x="1049.9" y="882.0" font-size="8.3" text-anchor="middle" fill="#1a1a1a">J</text>
<text x="1064.0" y="698.5" font-size="8.3" text-anchor="middle" fill="#1a1a1a">O</text>
<text x="1064.0" y="882.0" font-size="8.3" text-anchor="middle" fill="#1a1a1a">O</text>
<text x="1076.1" y="698.5" font-size="8.3" text-anchor="middle" fill="#1a1a1a" font-weight="bold">17</text>
<text x="1076.1" y="882.0" font-size="8.3" text-anchor="middle" fill="#1a1a1a" font-weight="bold">17</text>
<text x="1092.2" y="698.5" font-size="8.3" text-anchor="middle" fill="#1a1a1a">A</text>
<text x="1092.2" y="882.0" font-size="8.3" text-anchor="middle" fill="#1a1a1a">A</text>
<text x="1106.3" y="698.5" font-size="8.3" text-anchor="middle" fill="#1a1a1a">J</text>
<text x="1106.3" y="882.0" font-size="8.3" text-anchor="middle" fill="#1a1a1a">J</text>
<text x="1120.4" y="698.5" font-size="8.3" text-anchor="middle" fill="#1a1a1a">O</text>
<text x="1120.4" y="882.0" font-size="8.3" text-anchor="middle" fill="#1a1a1a">O</text>
<text x="1132.5" y="698.5" font-size="8.3" text-anchor="middle" fill="#1a1a1a" font-weight="bold">18</text>
<text x="1132.5" y="882.0" font-size="8.3" text-anchor="middle" fill="#1a1a1a" font-weight="bold">18</text>
<text x="1148.6" y="698.5" font-size="8.3" text-anchor="middle" fill="#1a1a1a">A</text>
<text x="1148.6" y="882.0" font-size="8.3" text-anchor="middle" fill="#1a1a1a">A</text>
<text x="1162.7" y="698.5" font-size="8.3" text-anchor="middle" fill="#1a1a1a">J</text>
<text x="1162.7" y="882.0" font-size="8.3" text-anchor="middle" fill="#1a1a1a">J</text>
<path d="M12.5 76.5H1166.5 M12.5 141.5H1166.5" stroke="#7a7a7a" stroke-width="1" fill="none"/>
<path d="M12.5 108.5H1166.5" stroke="#7a7a7a" stroke-width="1" stroke-dasharray="6,3,1,3" fill="none"/>
<path d="M572.5 148.5H1166" stroke="#e0202a" stroke-width="1.2" fill="none"/>
<polygon points="134.7,76.5 135.8,67.5 137.7,76.5" fill="#5f8f5f"/>
<polygon points="155.5,76.5 156.7,69.2 157.6,76.5" fill="#5f8f5f"/>
<polygon points="162.2,76.5 162.5,75.0 162.7,76.5" fill="#5f8f5f"/>
<polygon points="612.0,76.5 612.5,71.7 615.0,65.0 616.7,70.8 618.3,64.2 620.0,75.0 620.1,76.5" fill="#5f8f5f"/>
<polygon points="700.5,76.5 701.7,64.2 703.3,70.0 705.0,61.7 706.5,76.5" fill="#5f8f5f"/>
<polygon points="943.8,76.5 945.0,65.0 949.2,50.0 951.7,76.5" fill="#5f8f5f"/>
<polygon points="951.8,76.5 955.0,65.0 959.2,56.7 960.8,72.5 963.3,58.3 966.7,49.2 970.8,61.7 974.2,49.2 976.7,69.2 978.3,63.3 980.1,76.5" fill="#5f8f5f"/>
<polygon points="47.2,141.5 48.3,146.7 49.2,141.5" fill="#a86a6a"/>
<polygon points="255.1,141.5 257.5,157.5 260.0,142.5 260.8,152.5 261.9,141.5" fill="#a86a6a"/>
<polygon points="286.8,141.5 290.0,150.0 293.0,141.5" fill="#a86a6a"/>
<polygon points="293.5,141.5 295.8,148.3 296.3,141.5" fill="#a86a6a"/>
<polygon points="305.5,141.5 306.7,146.7 308.3,150.8 311.7,146.7 312.4,141.5" fill="#a86a6a"/>
<polygon points="340.1,141.5 340.8,143.3 343.3,153.3 344.2,141.5" fill="#a86a6a"/>
<polygon points="391.9,141.5 394.2,151.7 395.3,141.5" fill="#a86a6a"/>
<polygon points="398.3,141.5 399.2,143.3 399.3,141.5" fill="#a86a6a"/>
<polygon points="475.6,141.5 475.8,143.3 476.2,141.5" fill="#a86a6a"/>
<polygon points="542.2,141.5 542.5,143.3 542.9,141.5" fill="#a86a6a"/>
<polygon points="552.9,141.5 553.3,143.3 554.7,141.5" fill="#a86a6a"/>
<polygon points="556.2,141.5 560.0,155.0 562.4,141.5" fill="#a86a6a"/>
<polygon points="578.9,141.5 580.0,146.7 581.0,141.5" fill="#a86a6a"/>
<polygon points="755.1,141.5 755.8,144.2 756.1,141.5" fill="#a86a6a"/>
<polygon points="1107.3,141.5 1108.3,145.0 1111.1,141.5" fill="#a86a6a"/>
<polygon points="1112.1,141.5 1115.8,148.3 1116.7,141.5" fill="#a86a6a"/>
<polygon points="1135.8,141.5 1136.7,145.8 1137.5,141.5" fill="#a86a6a"/>
<polyline points="13.3,95.0 15.0,99.2 16.2,94.4 17.5,90.8 19.2,100.0 20.4,102.2 21.7,106.7 22.9,109.2 24.2,110.8 25.4,104.9 26.7,101.7 27.9,97.2 29.2,92.5 30.8,105.8 32.5,95.8 33.8,100.0 35.0,105.0 36.6,98.2 38.3,94.2 40.0,95.8 41.7,123.3 43.3,130.0 45.0,131.7 46.6,139.2 48.3,146.7 50.0,135.2 51.7,126.7 53.0,119.4 54.2,112.5 55.9,119.0 57.5,128.3 58.8,122.8 60.0,120.0 61.6,118.9 63.3,118.3 64.5,113.5 65.8,106.7 67.0,98.8 68.3,93.3 70.0,82.5 71.7,92.5 73.0,88.7 74.2,86.7 75.8,87.5 77.5,87.5 78.3,81.7 80.0,92.5 82.1,86.4 84.2,77.5 85.8,95.0 87.5,86.7 88.8,81.9 90.0,76.7 91.7,108.3 93.3,114.2 94.5,110.1 95.8,106.7 97.5,116.7 99.2,105.8 101.2,114.4 103.3,120.0 105.0,124.2 106.7,113.1 108.3,105.0 110.4,101.1 112.5,95.0 114.6,99.3 116.7,105.0 118.3,95.5 120.0,88.3 121.7,87.5 123.3,89.2 125.0,84.4 126.7,80.8 128.3,88.9 130.0,95.0 131.7,90.2 133.3,87.5 134.6,77.8 135.8,67.5 137.1,73.8 138.3,79.2 140.0,93.3 141.2,100.8 142.5,109.2 143.8,104.4 145.0,99.2 146.2,97.4 147.5,98.3 149.2,91.5 150.8,87.5 152.5,85.3 154.2,85.0 155.4,77.7 156.7,69.2 157.9,79.0 159.2,89.2 160.8,81.5 162.5,75.0 163.8,83.2 165.0,90.8 166.2,85.3 167.5,80.0 168.8,91.9 170.0,105.0 172.1,116.8 174.2,126.7 175.8,121.1 177.5,114.2 179.2,110.0 180.8,107.5 182.1,109.0 183.3,110.0 185.0,98.0 186.7,85.8 187.9,93.7 189.2,99.2 190.4,100.3 191.7,100.0 192.9,96.4 194.2,94.2 195.8,92.0 197.5,86.7 199.6,84.6 201.7,85.0 202.9,93.9 204.2,103.3 205.8,106.7 207.1,116.7 208.3,125.0 209.6,123.0 210.8,123.3 212.5,115.8 213.8,119.1 215.0,122.5 216.7,122.5 217.9,112.3 219.2,105.0 220.8,110.8 222.1,103.0 223.3,94.2 225.0,103.3 226.7,110.8 228.3,100.0 230.0,97.5 231.7,103.3 232.9,94.4 234.2,85.0 235.8,95.0 237.1,94.1 238.3,90.8 239.6,98.2 240.8,106.7 242.1,103.1 243.3,98.3 244.6,103.2 245.8,107.5 247.5,118.6 249.2,129.2 250.4,131.1 251.7,133.3 253.3,138.1 255.0,140.8 256.2,150.6 257.5,157.5 258.8,149.9 260.0,142.5 260.8,152.5 262.5,135.0 264.2,126.7 265.4,126.4 266.7,125.0 268.4,121.5 270.0,120.8 271.6,122.7 273.3,123.3 275.0,115.0 276.6,124.6 278.3,133.3 280.0,128.6 281.7,120.8 283.4,129.8 285.0,136.7 287.5,142.7 290.0,150.0 291.6,145.0 293.3,140.8 294.6,145.1 295.8,148.3 297.1,130.5 298.3,115.8 300.0,123.3 301.2,125.7 302.5,128.3 304.6,136.4 306.7,146.7 308.3,150.8 310.0,147.5 311.7,146.7 312.9,136.1 314.2,128.3 315.4,123.4 316.7,116.7 317.9,113.8 319.2,113.3 320.9,105.8 322.5,100.0 323.8,105.5 325.0,111.7 327.1,122.9 329.2,131.7 330.4,131.2 331.7,133.3 333.3,123.3 335.8,129.8 338.3,136.7 339.6,140.2 340.8,143.3 342.1,149.5 343.3,153.3 345.0,131.7 346.6,135.2 348.3,136.7 350.4,127.9 352.5,116.7 354.1,114.3 355.8,113.3 357.5,106.4 359.2,100.0 360.9,97.4 362.5,95.8 364.1,106.6 365.8,115.0 367.5,115.6 369.2,113.3 370.9,118.0 372.5,125.0 373.8,113.1 375.0,103.3 376.2,109.1 377.5,116.7 378.8,109.6 380.0,104.2 381.6,107.9 383.3,111.7 385.4,117.0 387.5,121.7 389.1,128.4 390.8,136.7 392.5,142.6 394.2,151.7 395.8,136.7 397.5,139.7 399.2,143.3 400.0,120.0 401.2,120.4 402.5,121.7 403.8,116.5 405.0,110.8 406.2,118.1 407.5,122.5 408.8,126.9 410.0,130.0 411.7,108.3 412.9,107.1 414.2,105.8 415.4,109.9 416.7,113.3 418.4,103.1 420.0,91.7 421.6,84.4 423.3,80.0 425.0,89.2 426.2,84.2 427.5,76.7 429.1,81.7 430.8,85.0 432.5,97.8 434.2,108.3 435.0,98.3 436.7,114.2 438.4,105.6 440.0,95.0 441.2,94.7 442.5,95.0 443.8,92.2 445.0,90.0 446.2,85.0 447.5,82.5 449.6,83.3 451.7,83.3 452.9,93.1 454.2,105.8 455.0,95.8 456.7,113.3 458.3,112.5 460.0,104.9 461.7,100.0 463.4,99.1 465.0,100.0 466.2,106.0 467.5,114.2 468.8,110.7 470.0,108.3 471.2,111.1 472.5,116.7 474.1,128.4 475.8,143.3 477.1,136.4 478.3,131.7 480.4,121.7 482.5,114.2 484.2,124.2 485.4,120.0 486.7,116.7 487.9,119.3 489.2,125.0 490.8,118.3 492.5,117.0 494.2,113.3 495.4,115.4 496.7,116.7 497.9,108.5 499.2,102.5 500.4,107.1 501.7,113.3 503.4,115.3 505.0,118.3 506.2,125.8 507.5,134.2 508.8,125.9 510.0,120.0 511.2,121.5 512.5,120.8 513.8,116.1 515.0,108.3 516.6,110.7 518.3,113.3 520.0,117.4 521.7,121.7 523.3,116.7 525.0,125.0 527.1,130.8 529.2,139.2 530.5,134.2 531.7,131.7 533.0,127.8 534.2,125.0 535.9,120.1 537.5,116.7 538.8,124.4 540.0,130.0 541.2,135.6 542.5,143.3 544.2,135.0 545.5,125.6 546.7,119.2 548.4,125.2 550.0,128.3 551.6,135.9 553.3,143.3 554.5,140.5 555.8,140.0 557.9,147.6 560.0,155.0 561.6,144.3 563.3,136.7 565.0,127.6 566.7,118.3 568.0,125.7 569.2,130.0 570.5,128.7 571.7,125.0 573.0,122.3 574.2,118.3 577.1,131.7 580.0,146.7 581.7,137.5 583.4,136.7 585.0,136.7 586.2,127.7 587.5,120.8 589.1,127.1 590.8,131.7 592.5,121.7 594.2,109.2 595.8,119.2 597.0,120.6 598.3,121.7 600.0,115.9 601.7,108.3 603.3,87.5 605.0,82.4 606.7,78.3 608.4,86.2 610.0,95.8 611.2,84.7 612.5,71.7 613.8,69.9 615.0,65.0 616.7,70.8 618.3,64.2 620.0,75.0 621.6,93.2 623.3,109.2 624.5,107.2 625.8,103.3 627.5,97.3 629.2,89.2 630.5,90.8 631.7,90.8 633.4,84.5 635.0,80.0 636.2,93.8 637.5,107.5 639.1,102.9 640.8,99.2 642.0,101.8 643.3,107.5 645.0,115.8 646.2,121.0 647.5,129.2 648.8,125.1 650.0,122.5 651.6,122.1 653.3,123.3 655.4,128.1 657.5,131.7 658.8,131.1 660.0,127.5 661.6,131.1 663.3,135.0 665.0,135.5 666.7,133.3 668.4,138.6 670.0,140.8 671.2,137.7 672.5,131.7 674.1,132.9 675.8,135.0 677.0,120.4 678.3,107.5 679.5,106.2 680.8,106.7 682.0,108.2 683.3,111.7 685.0,97.8 686.7,85.8 688.4,85.8 690.0,85.0 691.7,95.0 693.0,89.2 694.2,80.8 695.5,87.7 696.7,92.5 698.0,90.8 699.2,89.2 700.5,77.2 701.7,64.2 703.3,70.0 705.0,61.7 706.2,75.2 707.5,86.7 709.6,95.4 711.7,106.7 713.4,116.0 715.0,124.2 715.8,105.8 717.5,107.6 719.2,106.7 720.5,110.1 721.7,111.7 723.4,124.2 725.0,135.0 726.6,136.2 728.3,137.5 730.0,122.3 731.7,109.2 733.8,108.9 735.8,106.7 737.5,115.8 738.3,103.3 740.0,116.7 742.1,117.0 744.2,118.3 745.5,123.5 746.7,126.7 748.4,129.9 750.0,130.0 751.6,132.2 753.3,135.0 754.5,139.3 755.8,144.2 757.0,133.5 758.3,120.0 759.5,124.9 760.8,128.3 762.5,120.2 764.2,114.2 765.5,114.3 766.7,116.7 768.4,118.9 770.0,123.3 771.2,121.7 772.5,117.5 773.8,121.0 775.0,122.5 776.7,95.0 778.3,88.3 779.5,86.8 780.8,87.5 782.5,105.0 784.2,116.7 785.8,103.3 787.0,96.8 788.3,88.3 790.0,95.8 791.2,93.6 792.5,88.3 794.1,85.9 795.8,82.5 797.0,92.4 798.3,103.3 800.0,106.0 801.7,108.3 803.0,101.7 804.2,97.5 805.9,100.5 807.5,106.7 809.2,99.2 810.9,106.1 812.5,110.0 815.0,96.3 817.5,81.7 818.8,87.6 820.0,93.3 821.2,96.4 822.5,96.7 823.3,85.0 824.5,84.8 825.8,85.0 827.5,95.8 828.8,101.6 830.0,105.0 832.1,118.1 834.2,129.2 835.5,123.7 836.7,120.0 838.4,117.6 840.0,116.7 841.6,108.5 843.3,101.7 845.4,109.2 847.5,118.3 849.6,113.6 851.7,108.3 853.4,113.8 855.0,120.8 856.6,111.0 858.3,101.7 859.5,92.2 860.8,85.0 862.0,90.1 863.3,92.5 864.5,93.7 865.8,95.8 867.5,97.8 869.2,100.0 870.5,91.9 871.7,83.3 873.8,102.5 875.8,119.2 877.5,104.7 879.2,90.8 881.2,102.6 883.3,111.7 885.0,116.7 886.6,112.1 888.3,107.5 890.0,114.7 891.7,121.7 893.8,125.9 895.8,130.0 897.5,118.5 899.2,110.0 901.2,114.0 903.3,118.3 905.8,110.6 908.3,105.0 910.4,107.6 912.5,113.3 913.8,116.8 915.0,118.3 916.6,120.2 918.3,124.2 920.0,116.6 921.7,109.2 923.3,120.0 925.0,119.1 926.7,116.7 928.0,111.9 929.2,106.7 930.9,105.3 932.5,105.0 933.8,109.2 935.0,113.3 936.6,107.7 938.3,101.7 940.0,90.8 941.2,90.5 942.5,88.3 943.8,75.4 945.0,65.0 947.1,57.7 949.2,50.0 950.5,62.5 951.7,76.7 953.4,70.1 955.0,65.0 957.1,61.7 959.2,56.7 960.8,72.5 962.0,65.4 963.3,58.3 965.0,53.9 966.7,49.2 968.8,56.3 970.8,61.7 972.5,56.8 974.2,49.2 975.5,59.0 976.7,69.2 978.3,63.3 979.5,72.9 980.8,81.7 982.5,98.3 984.2,111.7 985.8,93.3 987.5,101.3 989.2,109.2 990.5,103.8 991.7,98.3 993.0,95.6 994.2,91.7 995.5,92.8 996.7,94.2 998.0,102.6 999.2,110.8 1000.5,107.0 1001.7,103.3 1003.4,108.9 1005.0,111.7 1006.2,114.0 1007.5,115.0 1008.8,107.9 1010.0,98.3 1012.1,93.5 1014.2,85.8 1015.9,93.4 1017.5,102.5 1020.4,98.1 1023.3,93.3 1025.0,107.7 1026.7,119.2 1029.2,121.5 1031.7,121.7 1033.0,122.2 1034.2,125.0 1036.2,125.9 1038.3,129.2 1040.4,120.3 1042.5,111.7 1044.2,114.1 1045.8,119.2 1048.8,106.7 1051.7,95.8 1053.3,110.8 1054.5,112.8 1055.8,117.5 1057.9,112.6 1060.0,106.7 1061.7,111.7 1063.8,101.4 1065.8,89.2 1067.0,96.7 1068.3,101.7 1069.5,89.7 1070.8,80.0 1072.5,79.0 1074.2,76.7 1075.8,81.4 1077.5,85.0 1079.2,93.0 1080.8,103.3 1083.3,99.1 1085.8,92.5 1087.5,104.0 1089.2,112.5 1090.5,105.0 1091.7,99.2 1093.3,108.5 1095.0,115.0 1096.7,120.5 1098.3,126.7 1100.0,125.8 1101.7,125.0 1103.3,130.7 1105.0,133.3 1106.7,140.2 1108.3,145.0 1110.0,141.8 1111.7,140.8 1113.8,144.3 1115.8,148.3 1117.5,135.8 1119.2,123.3 1121.2,114.9 1123.3,107.5 1125.0,115.3 1126.7,125.0 1128.3,118.6 1130.0,113.3 1131.7,122.4 1133.3,130.0 1135.0,136.4 1136.7,145.8 1138.0,138.9 1139.2,131.7 1140.5,129.8 1141.7,128.3" fill="none" stroke="#2a2a2a" stroke-width="1.05" stroke-linejoin="round"/>
<rect x="13" y="22" width="73" height="10" fill="#fff"/>
<path d="M14.5 30.5 L16.5 25.5 L18 28 L19.5 24.5 L21.5 30.5Z" fill="#5f8f5f"/>
<text x="24" y="30" font-size="8" fill="#333" style="font-family:Liberation Mono,monospace" textLength="61" lengthAdjust="spacingAndGlyphs">RSI(14) 37.90</text>
<rect x="1034.5" y="38.5" width="124" height="17" fill="#fff" stroke="#aaa" stroke-width="1"/>
<path d="M1036 56.5H1159.5V40" stroke="#ccc" stroke-width="1" fill="none"/>
<path d="M1087.5 38.5V55.5" stroke="#888" stroke-width="1"/>
<text x="1037" y="51" font-size="12" font-weight="bold" fill="#d0101a" textLength="48" lengthAdjust="spacingAndGlyphs">Sunshine</text>
<text x="1090" y="51" font-size="12" font-weight="bold" fill="#111" textLength="60" lengthAdjust="spacingAndGlyphs">Profits.com</text>
<rect x="48.0" y="330.4" width="45.3" height="117.3" fill="rgba(180,90,105,0.22)" stroke="rgba(180,90,105,0.25)" stroke-width="1"/>
<rect x="103.5" y="268.0" width="36.7" height="135.4" fill="rgba(180,90,105,0.22)" stroke="rgba(180,90,105,0.25)" stroke-width="1"/>
<rect x="393.0" y="448.5" width="57.0" height="130.0" fill="rgba(180,90,105,0.22)" stroke="rgba(180,90,105,0.25)" stroke-width="1"/>
<rect x="575.5" y="489.3" width="43.8" height="194.4" fill="rgba(180,90,105,0.22)" stroke="rgba(180,90,105,0.25)" stroke-width="1"/>
<rect x="675.4" y="482.2" width="33.1" height="169.1" fill="rgba(180,90,105,0.22)" stroke="rgba(180,90,105,0.25)" stroke-width="1"/>
<rect x="756.3" y="555.5" width="39.5" height="111.3" fill="rgba(180,90,105,0.22)" stroke="rgba(180,90,105,0.25)" stroke-width="1"/>
<rect x="927.7" y="368.2" width="47.2" height="225.5" fill="rgba(180,90,105,0.22)" stroke="rgba(180,90,105,0.25)" stroke-width="1"/>
<rect x="1040.4" y="342.8" width="39.2" height="112.7" fill="rgba(180,90,105,0.22)" stroke="rgba(180,90,105,0.25)" stroke-width="1"/>
<path d="M12.5 300.5H1166" stroke="#4a4af0" stroke-width="1.3" stroke-dasharray="4,3" fill="none"/>
<path d="M689 341.5H1149.7" stroke="#d83a5a" stroke-width="1" fill="none"/>
<path d="M689 452.5H1149.7" stroke="#d83a5a" stroke-width="1" fill="none"/>
<path d="M689 490.5H1149.7" stroke="#d83a5a" stroke-width="1" fill="none"/>
<path d="M689 528.5H1149.7" stroke="#d83a5a" stroke-width="1" fill="none"/>
<path d="M689 667.5H1149.7" stroke="#d83a5a" stroke-width="1" fill="none"/>
<path d="M927.7 341.5H1125.8" stroke="#3a3a3a" stroke-width="1.1" fill="none"/>
<path d="M927.7 429.5H1125.8" stroke="#3a3a3a" stroke-width="1.1" fill="none"/>
<path d="M927.7 458.5H1125.8" stroke="#3a3a3a" stroke-width="1.1" fill="none"/>
<path d="M927.7 488.0H1125.8" stroke="#3a3a3a" stroke-width="1.1" fill="none"/>
<path d="M927.7 593.5H1125.8" stroke="#3a3a3a" stroke-width="1.1" fill="none"/>
<path d="M12.5 450.2H1166.5" stroke="#111" stroke-width="2.2" fill="none"/>
<path d="M285.5 385.5H1118" stroke="#333" stroke-width="1.2" fill="none"/>
<path d="M635.5 481.5H1166.5" stroke="#333" stroke-width="1.2" fill="none"/>
<path d="M706.7 486.5H1166.5" stroke="#333" stroke-width="1.2" fill="none"/>
<text x="689.0" y="339.1" font-size="8.5" fill="#8a8a8a" textLength="47.5" lengthAdjust="spacingAndGlyphs">0.0%: 103.87</text>
<text x="689.0" y="450.1" font-size="8.5" fill="#8a8a8a" textLength="47.5" lengthAdjust="spacingAndGlyphs">38.2%: 91.95</text>
<text x="689.0" y="488.1" font-size="8.5" fill="#8a8a8a" textLength="47.5" lengthAdjust="spacingAndGlyphs">50.0%: 88.26</text>
<text x="689.0" y="526.6" font-size="8.5" fill="#8a8a8a" textLength="47.5" lengthAdjust="spacingAndGlyphs">61.8%: 84.58</text>
<text x="689.0" y="665.1" font-size="8.5" fill="#8a8a8a" textLength="52.0" lengthAdjust="spacingAndGlyphs">100.0%: 72.66</text>
<text x="1077.0" y="338.7" font-size="8.5" fill="#8a8a8a" textLength="47.5" lengthAdjust="spacingAndGlyphs">0.0%: 103.87</text>
<text x="1077.0" y="427.1" font-size="8.5" fill="#8a8a8a" textLength="47.5" lengthAdjust="spacingAndGlyphs">38.2%: 94.36</text>
<text x="1077.0" y="456.6" font-size="8.5" fill="#8a8a8a" textLength="47.5" lengthAdjust="spacingAndGlyphs">50.0%: 91.35</text>
<text x="1077.0" y="486.6" font-size="8.5" fill="#8a8a8a" textLength="47.5" lengthAdjust="spacingAndGlyphs">61.8%: 88.39</text>
<text x="1073.0" y="591.6" font-size="8.5" fill="#8a8a8a" textLength="52.0" lengthAdjust="spacingAndGlyphs">100.0%: 78.82</text>
<path d="M13.2 475.6C17.7 473.4 33.0 465.5 40.0 462.3C47.0 459.1 50.0 458.4 55.0 456.3C60.0 454.2 65.9 452.0 70.0 449.7C74.1 447.4 75.2 446.0 79.4 442.6C83.6 439.2 88.2 433.5 95.2 429.2C102.2 424.9 112.2 423.1 121.7 416.7C131.2 410.3 141.9 399.7 152.0 390.8C162.1 381.9 172.3 372.5 182.5 363.4C192.7 354.3 202.8 344.4 213.0 336.0C223.2 327.6 233.3 319.5 243.4 313.2C253.5 306.9 266.2 301.3 273.8 298.0C281.4 294.7 283.1 293.8 289.0 293.4C294.9 293.0 302.2 294.3 309.0 295.5C315.8 296.7 323.6 298.2 330.0 300.5C336.4 302.8 341.7 305.1 347.5 309.2C353.3 313.3 359.2 319.5 365.0 325.0C370.8 330.5 376.6 336.0 382.4 342.4C388.2 348.8 394.2 355.8 400.0 363.4C405.8 371.0 411.6 381.0 417.4 388.0C423.2 395.0 429.2 399.0 435.0 405.4C440.8 411.8 446.3 419.0 452.4 426.4C458.5 433.8 463.9 441.6 471.6 450.0C479.3 458.4 490.5 469.7 498.4 476.8C506.3 483.9 511.8 487.6 518.9 492.6C526.0 497.6 534.1 502.9 541.0 506.8C547.9 510.8 554.2 513.3 560.0 516.3C565.8 519.3 569.0 520.3 575.7 525.0C582.4 529.7 594.1 540.8 600.0 544.7C605.9 548.6 606.2 548.1 610.8 548.5C615.4 548.9 622.1 547.0 627.7 547.0C633.3 547.0 639.2 547.1 644.6 548.5C650.0 549.9 652.7 551.0 660.0 555.5C667.3 560.0 678.8 571.5 688.2 575.2C697.6 579.0 706.9 576.1 716.3 578.0C725.7 579.9 735.1 583.7 744.5 586.5C753.9 589.3 764.7 593.8 772.7 595.0C780.7 596.2 785.4 595.4 792.4 593.5C799.4 591.6 808.0 585.6 815.0 583.7C822.0 581.8 827.4 581.1 834.6 582.0C841.8 582.9 850.9 588.7 858.0 589.3C865.1 589.9 871.5 586.9 877.5 585.5C883.5 584.1 887.8 581.9 894.0 581.0C900.2 580.1 907.4 580.1 915.0 580.2C922.6 580.4 932.3 582.0 939.6 581.6C946.9 581.2 953.4 580.6 958.8 577.7C964.2 574.8 967.4 569.4 972.2 564.3C977.0 559.2 983.1 551.8 987.6 547.0C992.1 542.2 995.3 538.7 999.0 535.5C1002.7 532.3 1004.1 532.6 1010.0 527.8C1015.9 523.0 1026.2 513.5 1034.4 506.7C1042.6 499.9 1051.0 493.4 1059.3 486.8C1067.6 480.2 1075.7 473.6 1084.0 467.0C1092.3 460.4 1100.6 452.7 1108.9 447.1C1117.2 441.5 1128.3 436.4 1133.7 433.5C1139.1 430.6 1139.9 430.4 1141.1 429.8" fill="none" stroke="#e0506e" stroke-width="1.1"/>
<path d="M13.2 399.5C17.8 396.4 31.6 381.7 40.6 381.0C49.6 380.3 61.6 392.7 67.0 395.4C72.4 398.1 69.2 397.9 73.0 397.4C76.8 396.9 86.0 393.4 90.0 392.6C94.0 391.8 94.2 394.1 97.2 392.6C100.2 391.1 103.2 387.8 108.0 383.6C112.8 379.4 120.1 373.6 126.1 367.3C132.1 361.0 138.8 353.2 144.2 345.7C149.6 338.2 154.4 330.6 158.6 322.2C162.8 313.8 165.0 303.1 169.4 295.1C173.8 287.1 178.6 281.7 185.0 274.0C191.4 266.3 201.9 252.6 207.6 249.0C213.3 245.4 215.6 252.5 219.0 252.5C222.4 252.5 223.3 251.8 228.0 249.0C232.7 246.2 241.4 235.2 247.0 235.6C252.6 236.0 257.1 246.5 261.8 251.4C266.5 256.3 271.7 260.2 275.3 265.0C278.9 269.8 280.6 274.6 283.3 280.0C286.0 285.4 288.5 290.6 291.4 297.6C294.3 304.6 297.5 312.3 300.9 322.0C304.3 331.7 307.4 346.1 311.7 355.8C316.0 365.5 322.8 372.7 326.6 380.1C330.4 387.5 329.7 387.6 334.7 400.0C339.7 412.4 349.6 442.2 356.7 454.7C363.8 467.2 369.9 467.5 377.0 475.0C384.1 482.5 392.4 492.1 399.5 499.8C406.6 507.5 413.4 517.6 419.8 521.2C426.2 524.8 432.9 522.6 437.8 521.2C442.8 519.8 445.7 517.5 449.5 513.0C453.3 508.5 456.6 499.8 460.5 494.2C464.4 488.6 468.1 480.1 473.1 479.2C478.1 478.3 485.8 485.6 490.5 488.6C495.2 491.6 497.8 493.7 501.5 497.3C505.2 500.9 508.4 505.3 512.6 510.0C516.8 514.7 519.2 517.4 526.8 525.7C534.4 534.0 549.9 549.9 558.3 560.0C566.7 570.1 571.0 576.0 577.0 586.5C583.0 597.0 589.3 614.1 594.0 623.0C598.7 631.9 602.4 636.9 605.2 640.0C608.0 643.1 608.0 644.7 610.8 641.4C613.6 638.1 617.4 631.3 622.1 620.3C626.8 609.3 633.8 586.9 639.0 575.2C644.2 563.5 649.4 554.6 653.1 549.9C656.9 545.2 658.5 545.1 661.5 547.0C664.5 548.9 666.8 554.9 671.3 561.0C675.8 567.1 683.5 577.8 688.2 583.7C692.9 589.6 694.7 597.7 699.4 596.3C704.1 594.9 709.7 580.6 716.3 575.2C722.9 569.8 732.3 563.1 738.9 564.0C745.5 564.9 749.7 571.4 755.8 580.8C761.9 590.2 769.9 613.2 775.5 620.3C781.1 627.3 784.4 624.5 789.6 623.1C794.8 621.7 799.9 618.4 806.5 611.8C813.1 605.2 822.4 590.3 829.0 583.7C835.6 577.1 840.7 574.3 845.9 572.4C851.1 570.5 854.4 573.8 860.0 572.4C865.6 571.0 870.7 566.1 879.3 564.3C887.9 562.5 902.8 560.2 911.6 561.4C920.4 562.6 926.6 569.8 932.1 571.7C937.6 573.6 940.9 574.1 944.4 572.9C947.9 571.7 950.0 568.3 953.0 564.3C956.0 560.3 959.7 554.8 962.6 549.0C965.5 543.2 967.7 536.2 970.3 529.8C972.9 523.4 975.1 518.3 978.0 510.6C980.9 502.9 984.6 493.3 987.6 483.7C990.6 474.1 993.7 461.0 996.2 453.0C998.8 445.0 1000.7 440.5 1002.9 435.8C1005.1 431.1 1005.6 430.2 1009.6 424.8C1013.6 419.4 1020.6 406.3 1027.0 403.7C1033.4 401.1 1041.1 408.4 1048.0 409.3C1054.9 410.2 1063.0 410.6 1068.3 409.3C1073.6 408.0 1074.7 405.0 1079.6 401.4C1084.5 397.8 1093.5 390.3 1097.6 387.9C1101.7 385.5 1100.6 385.7 1104.4 386.8C1108.2 387.9 1115.7 390.8 1120.2 394.7C1124.7 398.6 1127.9 404.6 1131.4 410.5C1134.9 416.4 1139.5 426.6 1141.1 429.8" fill="none" stroke="#4848b8" stroke-width="1.1"/>
<path d="M13.5 372.7V377.4M14.5 376.2V379.4M15.5 377.2V381.3M18.5 361.5V375.8M19.5 374.4V380.7M20.5 373.5V383.4M21.5 380.1V384.9M22.5 383.1V387.0M23.5 383.5V389.2M26.5 369.8V377.0M29.5 367.9V374.8M33.5 354.8V360.9M35.5 356.7V364.5M37.5 359.6V363.6M38.5 360.2V371.3M39.5 354.1V371.4M40.5 368.0V385.7M42.5 373.7V399.0M43.5 392.1V410.2M44.5 402.6V415.4M45.5 410.3V418.9M47.5 408.1V425.5M48.5 416.8V448.6M49.5 439.0V441.8M56.5 415.2V429.8M58.5 419.9V426.4M59.5 422.0V430.3M61.5 423.9V437.8M62.5 426.1V429.6M63.5 426.0V430.4M76.5 369.6V375.1M80.5 364.8V379.6M84.5 355.7V364.7M87.5 345.1V356.4M91.5 337.6V352.7M92.5 346.2V360.0M93.5 354.3V371.5M94.5 366.8V378.5M98.5 366.8V371.9M99.5 365.3V376.0M100.5 369.4V375.8M101.5 371.8V378.6M102.5 376.4V385.7M103.5 383.3V402.6M109.5 370.8V377.0M113.5 351.5V362.2M114.5 357.0V362.9M115.5 360.8V366.1M118.5 361.1V371.9M119.5 364.9V369.8M125.5 326.8V343.5M131.5 321.3V325.9M137.5 271.7V287.5M138.5 284.3V296.9M139.5 291.7V303.2M140.5 296.9V306.4M141.5 301.9V312.1M142.5 307.7V314.5M143.5 311.7V323.3M145.5 309.9V313.3M151.5 288.3V291.3M155.5 268.4V274.2M164.5 225.5V232.5M165.5 229.4V241.4M166.5 234.4V244.4M168.5 223.6V249.9M169.5 238.5V260.4M170.5 258.5V272.8M172.5 259.7V282.3M173.5 278.9V289.2M175.5 281.3V295.4M180.5 266.0V285.3M182.5 272.3V283.6M185.5 249.9V255.9M187.5 231.2V253.3M190.5 230.0V239.1M191.5 233.3V239.1M194.5 227.8V237.3M199.5 207.5V226.9M201.5 201.7V225.7M202.5 216.6V227.0M205.5 209.5V237.9M206.5 230.7V242.0M207.5 239.7V251.7M208.5 243.2V250.4M209.5 247.7V264.5M210.5 246.2V259.9M212.5 250.3V266.5M213.5 262.1V271.4M214.5 264.2V275.7M219.5 242.0V249.9M222.5 238.8V244.2M225.5 233.6V246.2M228.5 224.7V232.2M231.5 216.3V237.6M236.5 204.7V211.3M237.5 206.5V231.2M238.5 226.9V230.1M239.5 224.9V232.9M240.5 228.2V233.1M242.5 223.7V235.0M244.5 227.6V232.9M245.5 227.5V239.1M246.5 235.3V242.5M248.5 232.1V247.0M250.5 243.9V257.9M251.5 251.7V266.2M252.5 262.5V281.1M253.5 276.4V287.6M254.5 278.9V292.8M255.5 289.7V300.4M256.5 290.8V307.3M257.5 300.5V313.8M258.5 308.8V322.4M259.5 318.2V328.9M260.5 319.4V338.7M264.5 310.5V314.2M266.5 305.4V311.6M267.5 308.8V328.3M271.5 301.7V316.3M272.5 310.3V315.7M274.5 301.6V315.7M275.5 311.4V317.3M276.5 314.9V322.0M277.5 316.3V321.7M278.5 318.7V330.3M279.5 324.6V337.3M280.5 330.6V336.7M282.5 317.5V330.7M283.5 327.6V335.8M284.5 328.9V338.7M286.5 331.9V355.0M287.5 348.8V361.6M288.5 352.7V369.3M289.5 366.3V369.4M290.5 365.7V384.1M291.5 371.2V381.5M292.5 377.1V382.0M296.5 364.3V380.5M297.5 374.2V379.9M298.5 359.4V394.3M299.5 372.4V388.0M300.5 375.6V386.0M301.5 380.4V391.0M303.5 373.0V395.5M305.5 379.8V398.0M306.5 392.8V424.3M307.5 416.6V428.4M308.5 421.5V431.1M309.5 428.4V436.4M310.5 432.9V446.4M312.5 436.4V446.7M318.5 407.4V423.0M322.5 388.2V401.6M323.5 398.1V403.8M324.5 399.2V412.7M325.5 407.3V419.3M326.5 414.5V429.0M327.5 425.8V432.6M328.5 429.8V444.8M329.5 441.3V448.9M331.5 444.3V454.3M333.5 432.6V444.3M334.5 435.3V457.8M335.5 455.1V463.5M336.5 460.0V476.4M338.5 458.0V488.1M339.5 480.9V495.0M341.5 479.6V497.0M342.5 485.8V497.3M343.5 490.7V523.4M344.5 519.8V527.6M346.5 496.8V511.1M347.5 508.7V524.5M352.5 485.3V496.2M359.5 469.4V485.0M360.5 479.0V481.5M363.5 455.1V473.7M364.5 469.4V481.7M367.5 466.5V488.3M369.5 479.7V491.1M371.5 478.6V491.8M372.5 483.3V497.9M373.5 489.5V501.8M374.5 487.6V501.1M377.5 479.8V494.1M379.5 475.3V486.8M381.5 480.7V486.7M382.5 481.7V491.2M383.5 489.6V495.5M385.5 488.4V498.9M386.5 493.8V499.1M387.5 491.6V515.0M389.5 507.2V524.7M390.5 517.9V525.9M391.5 520.3V554.2M392.5 542.0V559.1M393.5 551.2V559.6M394.5 549.9V562.5M395.5 553.2V569.2M396.5 558.4V564.5M404.5 529.7V544.2M406.5 534.7V550.4M409.5 533.3V555.4M410.5 549.7V562.1M418.5 520.5V527.3M421.5 504.6V515.5M428.5 469.1V489.2M429.5 483.1V491.7M431.5 482.5V487.8M432.5 485.1V495.8M433.5 488.4V498.0M434.5 492.6V505.6M435.5 499.8V506.9M438.5 486.1V496.6M444.5 469.4V483.5M449.5 450.4V464.2M451.5 452.3V458.4M452.5 452.4V460.1M453.5 456.2V462.6M454.5 456.7V463.6M455.5 457.6V480.9M456.5 477.9V485.8M457.5 479.0V489.5M465.5 465.9V478.3M466.5 466.3V478.5M467.5 474.0V482.1M468.5 479.2V486.3M469.5 482.1V489.2M470.5 484.9V488.1M471.5 486.7V493.1M473.5 485.7V507.6M474.5 501.3V522.6M475.5 518.2V528.5M484.5 503.0V508.8M485.5 506.5V517.1M488.5 508.4V521.4M489.5 515.5V523.3M490.5 518.7V528.9M491.5 518.5V524.0M492.5 520.2V523.9M496.5 511.3V520.9M500.5 499.8V506.1M501.5 502.1V517.3M502.5 511.8V520.1M503.5 514.5V523.2M504.5 520.0V524.2M505.5 522.4V527.9M506.5 524.1V533.5M507.5 530.2V543.2M508.5 539.5V550.8M510.5 542.1V545.4M512.5 536.2V543.0M515.5 523.1V529.6M517.5 525.9V530.6M518.5 527.2V532.8M519.5 530.3V535.0M521.5 528.0V534.1M522.5 531.6V539.3M523.5 537.1V540.3M524.5 536.4V544.6M526.5 541.2V555.7M527.5 553.0V555.6M528.5 553.3V559.9M530.5 552.2V563.8M535.5 547.9V553.6M536.5 549.9V555.1M537.5 546.3V555.1M538.5 551.4V559.6M540.5 549.8V565.9M541.5 563.1V570.5M543.5 564.5V568.3M545.5 563.3V573.6M546.5 571.6V575.4M548.5 559.3V571.8M549.5 565.8V584.1M550.5 575.7V588.8M551.5 581.5V592.5M552.5 586.6V600.8M554.5 590.2V598.4M555.5 595.3V603.6M556.5 599.0V606.1M557.5 604.6V610.5M558.5 604.5V618.0M559.5 614.9V621.1M560.5 615.6V638.4M561.5 631.5V641.5M562.5 633.4V639.0M568.5 607.4V615.3M569.5 611.6V625.4M570.5 621.9V629.8M571.5 626.3V635.1M572.5 631.2V637.2M573.5 631.1V636.8M574.5 634.9V637.6M575.5 633.1V639.6M576.5 634.5V643.2M577.5 636.4V646.7M578.5 641.0V664.8M579.5 660.1V679.4M580.5 676.6V681.4M582.5 674.9V678.5M583.5 675.5V683.3M592.5 653.7V661.9M593.5 652.0V670.2M594.5 666.7V672.5M596.5 657.0V671.5M597.5 666.4V676.1M610.5 580.8V617.3M615.5 521.6V541.5M619.5 491.1V508.3M620.5 496.4V519.0M621.5 512.6V538.3M623.5 518.1V554.6M624.5 546.6V571.6M629.5 519.7V532.0M635.5 485.8V509.0M636.5 503.4V509.0M637.5 506.6V516.3M638.5 513.3V532.7M640.5 519.0V524.2M641.5 519.4V529.7M642.5 524.9V536.0M643.5 532.3V548.2M644.5 540.9V547.2M645.5 543.8V550.3M646.5 543.5V550.7M647.5 544.7V579.2M649.5 571.7V596.1M652.5 568.7V583.4M653.5 576.3V583.0M654.5 576.5V594.8M655.5 590.4V598.4M656.5 592.3V600.9M657.5 596.2V601.4M659.5 597.5V607.4M660.5 601.2V608.3M662.5 599.1V604.8M663.5 601.6V616.1M666.5 608.8V626.6M667.5 621.4V631.6M668.5 626.5V630.5M670.5 617.9V627.6M671.5 621.7V639.0M672.5 631.3V641.7M675.5 624.8V648.5M676.5 632.7V640.5M678.5 624.2V631.9M682.5 600.0V615.3M685.5 590.0V600.0M686.5 594.8V600.8M688.5 580.4V589.8M692.5 558.4V570.7M694.5 559.7V564.4M695.5 558.8V567.0M697.5 561.1V566.2M698.5 561.5V568.2M701.5 537.8V546.5M706.5 487.9V516.2M709.5 502.0V516.5M710.5 510.7V543.6M711.5 534.5V547.7M712.5 538.5V552.2M713.5 544.7V559.5M714.5 551.5V569.1M715.5 558.1V571.5M717.5 547.3V560.6M720.5 538.8V555.0M721.5 550.1V570.2M723.5 559.8V587.3M724.5 581.2V589.8M725.5 579.7V609.4M727.5 593.2V604.9M728.5 593.6V630.0M729.5 601.0V609.2M737.5 564.0V585.1M738.5 579.1V591.6M739.5 583.8V600.2M740.5 596.8V606.6M742.5 592.5V615.7M744.5 602.9V610.9M745.5 605.2V615.8M746.5 612.2V616.1M747.5 612.2V624.7M749.5 618.5V628.9M750.5 623.7V630.7M751.5 627.5V641.9M752.5 637.3V640.7M753.5 636.7V643.2M754.5 635.6V644.6M755.5 641.1V654.2M756.5 648.2V660.7M759.5 642.2V656.0M763.5 626.2V644.9M764.5 640.7V657.7M765.5 649.0V655.7M767.5 647.2V656.0M768.5 646.8V655.8M769.5 647.4V655.0M774.5 633.9V644.6M780.5 586.9V598.6M781.5 590.6V609.9M782.5 605.2V609.8M783.5 603.0V624.7M784.5 617.9V633.3M785.5 619.6V624.9M787.5 598.2V618.1M793.5 566.9V586.5M795.5 576.4V581.1M797.5 559.7V575.2M799.5 567.6V578.4M800.5 570.6V582.7M801.5 577.0V590.3M802.5 584.8V592.7M804.5 583.3V593.5M806.5 584.6V591.8M809.5 574.7V582.2M810.5 577.6V593.7M813.5 575.1V578.8M819.5 553.7V557.1M825.5 535.4V543.1M826.5 538.9V541.4M827.5 538.1V554.1M828.5 548.9V559.9M829.5 551.3V567.2M830.5 559.4V572.1M832.5 563.4V573.5M833.5 569.9V578.3M834.5 571.2V590.6M836.5 583.1V594.2M841.5 575.3V581.0M844.5 567.0V580.6M845.5 578.4V585.3M847.5 579.9V583.6M848.5 582.3V588.0M849.5 584.3V589.9M851.5 571.7V587.5M852.5 582.0V592.9M853.5 584.6V593.9M859.5 556.3V576.5M864.5 543.0V548.9M865.5 545.9V553.9M869.5 528.2V547.2M870.5 539.5V551.5M871.5 528.5V552.9M873.5 540.1V548.4M874.5 539.2V549.5M875.5 543.3V554.0M876.5 547.5V573.6M880.5 543.6V550.4M881.5 547.8V556.1M882.5 550.4V562.4M883.5 558.0V566.3M884.5 561.8V569.9M886.5 550.1V557.4M887.5 551.5V557.4M889.5 552.8V567.7M890.5 563.5V569.8M891.5 562.1V569.5M892.5 565.8V571.3M893.5 564.9V579.0M895.5 570.7V586.5M897.5 575.4V588.2M898.5 583.3V590.5M901.5 565.9V583.6M902.5 578.5V584.8M904.5 563.3V572.0M905.5 563.8V583.3M906.5 573.7V585.6M908.5 576.4V582.4M911.5 568.8V575.4M912.5 570.8V581.5M913.5 577.7V585.3M916.5 571.6V576.5M917.5 575.8V583.5M918.5 578.4V583.9M919.5 579.4V588.3M920.5 585.5V591.5M921.5 588.4V591.2M926.5 575.1V584.8M929.5 568.9V579.3M932.5 571.7V578.7M934.5 570.7V581.6M937.5 564.9V580.8M940.5 564.8V570.9M949.5 519.9V527.4M955.5 496.0V509.5M972.5 409.6V419.6M976.5 376.5V396.4M977.5 391.8V403.4M978.5 395.0V408.7M981.5 391.1V412.3M983.5 392.9V414.5M984.5 404.2V429.2M989.5 398.5V422.1M991.5 407.6V417.2M995.5 388.1V409.2M996.5 403.0V417.6M999.5 398.6V411.6M1000.5 405.9V415.0M1001.5 410.2V418.2M1002.5 415.2V420.3M1004.5 412.9V419.7M1009.5 387.6V406.8M1015.5 368.6V384.1M1016.5 378.6V397.2M1017.5 390.5V398.8M1018.5 392.7V401.3M1020.5 382.4V390.4M1021.5 385.8V400.3M1023.5 392.7V397.5M1024.5 394.0V399.6M1026.5 392.8V410.8M1027.5 402.4V418.3M1029.5 400.3V410.1M1030.5 403.3V406.8M1031.5 404.2V425.3M1032.5 418.5V432.9M1033.5 426.8V433.0M1034.5 426.2V438.9M1035.5 432.2V441.6M1037.5 434.5V445.0M1038.5 436.8V450.4M1040.5 430.2V443.6M1044.5 415.5V436.6M1047.5 421.6V428.4M1051.5 403.1V410.8M1053.5 398.5V419.5M1054.5 415.3V421.0M1055.5 416.7V421.9M1058.5 409.7V425.7M1061.5 404.7V420.9M1069.5 365.8V375.0M1071.5 363.0V371.9M1075.5 343.6V359.6M1077.5 358.1V363.8M1078.5 360.9V379.8M1080.5 359.6V365.9M1081.5 362.5V378.7M1084.5 360.8V368.8M1086.5 356.7V367.8M1087.5 363.3V368.8M1089.5 363.4V372.9M1090.5 371.4V377.5M1091.5 373.2V381.8M1092.5 378.1V386.0M1093.5 382.8V389.7M1094.5 385.1V388.9M1095.5 386.4V390.5M1097.5 383.1V396.1M1098.5 392.4V398.5M1099.5 396.1V404.4M1101.5 399.5V409.4M1102.5 407.0V411.7M1103.5 408.6V416.7M1104.5 412.7V418.1M1105.5 415.8V418.3M1106.5 414.2V432.5M1107.5 430.8V435.8M1108.5 431.1V448.4M1110.5 436.5V445.7M1112.5 432.7V442.8M1113.5 436.8V446.4M1114.5 440.2V449.7M1116.5 443.5V455.6M1121.5 436.6V441.8M1124.5 426.2V432.5M1125.5 428.5V434.2M1126.5 429.5V435.4M1127.5 431.3V448.2M1128.5 443.4V448.6M1131.5 440.5V447.8M1132.5 443.4V454.1M1134.5 450.1V461.9M1135.5 458.3V473.2M1136.5 470.7V482.9M1137.5 477.9V488.5" stroke="#d8103c" stroke-width="1" fill="none"/>
<path d="M13.5 374.8V376.9M14.5 376.9V378.1M15.5 378.0V379.2M18.5 373.0V375.1M19.5 375.1V376.3M20.5 375.8V381.5M21.5 381.5V384.0M22.5 384.0V386.5M23.5 386.5V387.8M26.5 373.5V376.4M29.5 370.8V372.8M33.5 357.0V359.5M35.5 357.0V362.5M37.5 360.1V363.2M38.5 363.2V367.2M39.5 367.2V369.0M40.5 369.0V381.9M42.5 374.7V396.3M43.5 396.3V405.9M44.5 405.9V412.1M45.5 412.1V418.1M47.5 413.6V420.4M48.5 420.4V439.5M49.5 439.5V440.7M56.5 416.2V425.9M58.5 420.9V422.7M59.5 422.7V428.6M61.5 426.9V428.1M62.5 427.4V428.6M63.5 428.4V430.1M76.5 370.6V371.8M80.5 366.8V377.6M84.5 359.6V360.8M87.5 346.4V355.7M91.5 341.2V348.9M92.5 348.9V357.0M93.5 357.0V371.1M94.5 371.1V375.5M98.5 368.6V369.8M99.5 368.7V372.9M100.5 372.9V374.5M101.5 374.5V377.4M102.5 377.4V384.1M103.5 384.1V401.0M109.5 374.2V376.3M113.5 354.2V359.7M114.5 359.7V361.9M115.5 361.9V365.1M118.5 361.5V366.9M119.5 366.9V368.4M125.5 330.8V342.2M131.5 322.8V325.1M137.5 284.3V285.9M138.5 285.9V293.4M139.5 293.4V300.0M140.5 300.0V304.2M141.5 304.2V309.5M142.5 309.5V313.2M143.5 313.2V320.8M145.5 311.0V313.0M151.5 289.3V290.5M155.5 269.5V273.0M164.5 226.2V230.1M165.5 230.1V237.4M166.5 237.4V242.1M168.5 225.0V244.0M169.5 244.0V259.1M170.5 259.1V270.5M172.5 265.0V280.9M173.5 280.9V288.7M175.5 282.2V292.4M180.5 267.6V281.8M182.5 275.5V281.3M185.5 251.4V252.6M187.5 241.6V252.1M190.5 234.4V235.7M191.5 235.7V237.2M194.5 229.0V235.5M199.5 209.2V223.6M201.5 219.8V221.0M202.5 220.5V222.1M205.5 213.0V233.6M206.5 233.6V240.3M207.5 240.3V247.4M208.5 247.4V248.6M209.5 248.2V249.4M210.5 249.4V259.3M212.5 254.1V262.5M213.5 262.5V267.4M214.5 267.4V269.1M219.5 244.9V248.6M222.5 239.9V241.7M225.5 237.1V242.3M228.5 227.5V229.9M231.5 219.9V233.6M236.5 209.3V210.5M237.5 210.3V227.7M238.5 227.7V228.9M239.5 228.5V229.7M240.5 229.1V230.3M242.5 227.0V231.1M244.5 228.4V230.8M245.5 230.8V237.7M246.5 237.7V238.9M248.5 236.6V246.5M250.5 245.9V255.3M251.5 255.3V263.8M252.5 263.8V277.4M253.5 277.4V281.7M254.5 281.7V292.4M255.5 292.4V298.3M256.5 298.3V303.0M257.5 303.0V312.3M258.5 312.3V319.6M259.5 319.6V324.0M260.5 324.0V331.2M264.5 311.8V313.0M266.5 309.8V311.0M267.5 309.9V323.5M271.5 304.0V313.5M272.5 313.5V314.7M274.5 309.5V313.4M275.5 313.4V315.2M276.5 315.2V319.1M277.5 319.1V320.3M278.5 319.2V327.7M279.5 327.7V333.1M280.5 333.1V334.3M282.5 319.0V328.8M283.5 328.8V333.7M284.5 333.7V336.8M286.5 334.4V352.6M287.5 352.6V357.0M288.5 357.0V366.6M289.5 366.6V368.4M290.5 368.4V373.4M291.5 373.4V379.2M292.5 379.2V380.4M296.5 368.4V374.8M297.5 374.8V378.7M298.5 378.7V379.9M299.5 379.5V380.7M300.5 379.8V384.4M301.5 384.4V390.1M303.5 374.5V391.4M305.5 383.1V394.3M306.5 394.3V419.7M307.5 419.7V424.6M308.5 424.6V430.1M309.5 430.1V433.9M310.5 433.9V442.6M312.5 441.1V443.3M318.5 407.9V418.8M322.5 393.6V400.3M323.5 400.3V402.6M324.5 402.6V410.5M325.5 410.5V418.1M326.5 418.1V426.8M327.5 426.8V431.6M328.5 431.6V442.2M329.5 442.2V448.4M331.5 446.3V451.4M333.5 437.5V441.5M334.5 441.5V455.9M335.5 455.9V462.9M336.5 462.9V470.8M338.5 459.6V484.9M339.5 484.9V492.6M341.5 482.1V491.2M342.5 491.2V492.4M343.5 491.4V522.1M344.5 522.1V523.3M346.5 498.3V509.1M347.5 509.1V515.1M352.5 487.7V495.3M359.5 471.1V480.0M360.5 480.0V481.2M363.5 462.1V472.3M364.5 472.3V480.0M367.5 468.3V484.4M369.5 481.3V489.9M371.5 481.4V488.6M372.5 488.6V492.3M373.5 492.3V494.0M374.5 494.0V497.6M377.5 480.3V493.3M379.5 479.1V486.0M381.5 481.5V484.8M382.5 484.8V490.4M383.5 490.4V492.9M385.5 492.3V495.6M386.5 495.6V496.8M387.5 496.1V510.3M389.5 509.6V521.3M390.5 521.3V525.5M391.5 525.5V548.0M392.5 548.0V553.1M393.5 553.1V555.2M394.5 555.2V558.9M395.5 558.9V560.1M396.5 559.4V560.6M404.5 532.4V542.5M406.5 537.1V549.8M409.5 537.9V552.5M410.5 552.5V556.8M418.5 521.2V522.8M421.5 509.1V511.8M428.5 477.7V486.5M429.5 486.5V487.7M431.5 483.6V486.8M432.5 486.8V491.7M433.5 491.7V496.5M434.5 496.5V502.8M435.5 502.8V505.3M438.5 489.2V491.8M444.5 472.6V482.1M449.5 459.0V462.9M451.5 453.2V454.4M452.5 453.6V458.4M453.5 458.4V461.4M454.5 461.4V462.6M455.5 461.7V479.9M456.5 479.9V481.3M457.5 481.3V488.3M465.5 467.3V476.5M466.5 476.5V477.7M467.5 476.8V480.5M468.5 480.5V482.8M469.5 482.8V485.4M470.5 485.4V487.1M471.5 487.1V491.5M473.5 489.8V505.4M474.5 505.4V520.9M475.5 520.9V528.0M484.5 504.7V507.8M485.5 507.8V515.7M488.5 509.4V518.5M489.5 518.5V520.1M490.5 520.1V521.3M491.5 521.0V522.2M492.5 521.7V523.1M496.5 514.0V519.7M500.5 503.3V504.5M501.5 503.7V514.1M502.5 514.1V517.3M503.5 517.3V521.6M504.5 521.6V523.7M505.5 523.7V525.5M506.5 525.5V532.8M507.5 532.8V540.6M508.5 540.6V545.3M510.5 542.9V544.3M512.5 539.1V540.3M515.5 526.3V527.7M517.5 526.4V528.6M518.5 528.6V531.1M519.5 531.1V532.3M521.5 529.6V532.2M522.5 532.2V537.6M523.5 537.6V538.8M524.5 538.7V544.0M526.5 542.9V553.4M527.5 553.4V554.6M528.5 554.2V558.8M530.5 555.2V562.8M535.5 549.6V550.8M536.5 550.5V552.5M537.5 552.5V553.7M538.5 553.2V557.4M540.5 552.5V565.5M541.5 565.5V569.0M543.5 565.8V567.3M545.5 565.0V572.0M546.5 572.0V573.2M548.5 561.8V570.4M549.5 570.4V579.4M550.5 579.4V584.6M551.5 584.6V590.6M552.5 590.6V596.6M554.5 592.5V596.7M555.5 596.7V600.1M556.5 600.1V605.0M557.5 605.0V607.1M558.5 607.1V616.5M559.5 616.5V617.7M560.5 617.3V634.1M561.5 634.1V637.1M562.5 637.1V638.4M568.5 608.5V612.8M569.5 612.8V623.8M570.5 623.8V626.8M571.5 626.8V632.5M572.5 632.5V635.1M573.5 635.1V636.3M574.5 635.5V636.7M575.5 636.5V637.7M576.5 637.1V640.1M577.5 640.1V645.2M578.5 645.2V662.9M579.5 662.9V677.6M580.5 677.6V681.0M582.5 675.6V678.1M583.5 678.1V682.3M592.5 655.0V659.0M593.5 659.0V668.6M594.5 668.6V669.8M596.5 658.2V667.4M597.5 667.4V672.4M610.5 585.1V597.1M615.5 522.0V536.3M619.5 493.1V502.8M620.5 502.8V515.0M621.5 515.0V532.4M623.5 520.6V550.0M624.5 550.0V556.3M629.5 524.2V531.5M635.5 505.3V506.9M636.5 506.9V508.4M637.5 508.4V514.1M638.5 514.1V528.8M640.5 519.6V521.4M641.5 521.4V527.1M642.5 527.1V533.6M643.5 533.6V542.8M644.5 542.8V546.5M645.5 546.5V547.7M646.5 546.8V548.0M647.5 547.6V575.9M649.5 575.1V585.8M652.5 569.3V579.7M653.5 579.7V580.9M654.5 580.4V590.7M655.5 590.7V593.7M656.5 593.7V596.8M657.5 596.8V599.8M659.5 599.4V605.1M660.5 605.1V607.1M662.5 601.8V603.1M663.5 603.1V612.8M666.5 609.4V624.0M667.5 624.0V628.1M668.5 628.1V629.3M670.5 621.7V623.1M671.5 623.1V634.7M672.5 634.7V641.2M675.5 629.5V634.1M676.5 634.1V637.5M678.5 625.1V626.5M682.5 604.6V611.0M685.5 591.7V595.5M686.5 595.5V597.4M688.5 584.1V588.9M692.5 561.4V569.8M694.5 561.9V563.1M695.5 562.9V564.5M697.5 562.2V563.4M698.5 563.3V565.9M701.5 544.4V545.9M706.5 507.1V510.4M709.5 506.0V514.4M710.5 514.4V539.6M711.5 539.6V542.9M712.5 542.9V549.0M713.5 549.0V554.9M714.5 554.9V563.4M715.5 563.4V569.6M717.5 553.0V556.3M720.5 543.5V550.5M721.5 550.5V569.3M723.5 565.5V583.2M724.5 583.2V585.1M725.5 585.1V608.4M727.5 599.4V600.6M728.5 600.3V602.4M729.5 602.4V605.3M737.5 576.6V579.7M738.5 579.7V589.2M739.5 589.2V599.1M740.5 599.1V602.5M742.5 595.7V611.8M744.5 605.8V607.0M745.5 606.1V613.2M746.5 613.2V614.4M747.5 614.1V620.2M749.5 619.2V627.6M750.5 627.6V629.4M751.5 629.4V638.7M752.5 638.7V639.9M753.5 639.2V640.4M754.5 639.2V642.4M755.5 642.4V650.8M756.5 650.8V658.9M759.5 647.4V652.5M763.5 631.6V643.8M764.5 643.8V652.6M765.5 652.6V653.9M767.5 650.0V651.2M768.5 650.1V651.3M769.5 650.8V652.0M774.5 636.1V641.9M780.5 589.7V595.4M781.5 595.4V605.9M782.5 605.9V607.1M783.5 607.1V620.5M784.5 620.5V622.3M785.5 622.3V623.6M787.5 603.4V613.0M793.5 569.4V581.5M795.5 578.8V580.0M797.5 561.5V571.7M799.5 571.4V574.8M800.5 574.8V580.1M801.5 580.1V586.0M802.5 586.0V591.3M804.5 586.4V590.2M806.5 586.9V588.1M809.5 579.7V580.9M810.5 580.8V589.9M813.5 576.6V577.8M819.5 555.4V556.8M825.5 537.7V539.5M826.5 539.5V540.7M827.5 540.4V551.9M828.5 551.9V555.6M829.5 555.6V563.3M830.5 563.3V570.0M832.5 564.9V571.9M833.5 571.9V574.3M834.5 574.3V587.3M836.5 586.4V590.8M841.5 576.0V579.9M844.5 570.0V579.4M845.5 579.4V584.1M847.5 581.2V583.1M848.5 583.1V587.3M849.5 587.3V588.5M851.5 575.4V583.8M852.5 583.8V588.8M853.5 588.8V590.0M859.5 558.6V572.1M864.5 546.1V547.8M865.5 547.8V551.1M869.5 533.3V542.6M870.5 542.6V549.9M871.5 549.9V551.1M873.5 541.5V544.5M874.5 544.5V546.8M875.5 546.8V551.2M876.5 551.2V564.2M880.5 544.3V549.0M881.5 549.0V552.4M882.5 552.4V559.2M883.5 559.2V564.1M884.5 564.1V565.5M886.5 554.5V555.7M887.5 554.8V557.0M889.5 555.5V564.3M890.5 564.3V565.5M891.5 564.6V566.8M892.5 566.8V568.7M893.5 568.7V576.1M895.5 571.4V586.2M897.5 578.3V585.9M898.5 585.9V587.1M901.5 575.8V580.6M902.5 580.6V581.8M904.5 567.4V568.6M905.5 567.9V574.9M906.5 574.9V582.3M908.5 576.9V581.6M911.5 569.8V573.6M912.5 573.6V578.7M913.5 578.7V582.3M916.5 572.2V576.1M917.5 576.1V582.4M918.5 582.4V583.6M919.5 583.4V587.5M920.5 587.5V589.3M921.5 589.3V590.5M926.5 576.1V581.9M929.5 572.1V578.0M932.5 572.6V577.4M934.5 573.6V579.1M937.5 568.7V578.7M940.5 566.0V568.3M949.5 520.9V524.7M955.5 497.8V508.1M972.5 411.3V418.9M976.5 380.4V395.5M977.5 395.5V399.9M978.5 399.9V407.0M981.5 392.0V408.2M983.5 400.3V411.1M984.5 411.1V427.5M989.5 404.8V415.8M991.5 413.0V414.2M995.5 393.7V407.7M996.5 407.7V413.1M999.5 401.6V407.6M1000.5 407.6V413.6M1001.5 413.6V416.4M1002.5 416.4V418.6M1004.5 415.2V418.5M1009.5 390.7V403.5M1015.5 373.4V382.0M1016.5 382.0V394.5M1017.5 394.5V397.2M1018.5 397.2V398.6M1020.5 386.3V389.5M1021.5 389.5V396.7M1023.5 395.1V396.3M1024.5 396.3V398.8M1026.5 397.4V406.7M1027.5 406.7V413.6M1029.5 401.9V404.5M1030.5 404.5V405.7M1031.5 404.8V422.5M1032.5 422.5V429.9M1033.5 429.9V431.1M1034.5 430.5V434.3M1035.5 434.3V438.1M1037.5 437.4V441.4M1038.5 441.4V445.9M1040.5 434.2V438.7M1044.5 418.3V432.3M1047.5 422.9V425.1M1051.5 405.0V406.8M1053.5 400.8V416.5M1054.5 416.5V417.7M1055.5 417.3V418.5M1058.5 410.6V424.5M1061.5 408.2V417.9M1069.5 370.9V372.8M1071.5 365.4V368.0M1075.5 356.5V358.8M1077.5 358.4V363.2M1078.5 363.2V375.8M1080.5 363.9V365.1M1081.5 364.8V367.9M1084.5 363.6V365.0M1086.5 358.5V364.2M1087.5 364.2V366.3M1089.5 365.7V372.5M1090.5 372.5V374.4M1091.5 374.4V381.2M1092.5 381.2V384.9M1093.5 384.9V386.1M1094.5 385.7V387.6M1095.5 387.6V388.9M1097.5 385.1V394.8M1098.5 394.8V396.6M1099.5 396.6V402.8M1101.5 400.9V407.3M1102.5 407.3V410.8M1103.5 410.8V413.7M1104.5 413.7V416.6M1105.5 416.6V417.8M1106.5 417.7V431.8M1107.5 431.8V433.0M1108.5 432.6V444.4M1110.5 439.6V443.0M1112.5 433.2V440.0M1113.5 440.0V444.6M1114.5 444.6V447.5M1116.5 446.5V454.8M1121.5 438.2V440.1M1124.5 428.8V430.0M1125.5 429.6V430.9M1126.5 430.9V433.6M1127.5 433.6V444.9M1128.5 444.9V446.9M1131.5 443.8V445.8M1132.5 445.8V453.2M1134.5 451.7V459.8M1135.5 459.8V471.7M1136.5 471.7V482.0M1137.5 482.0V486.7" stroke="#d8103c" stroke-width="1.4" fill="none"/>
<path d="M16.5 376.4V380.1M17.5 369.3V378.6M24.5 377.3V388.7M25.5 370.7V381.0M27.5 370.6V379.8M28.5 367.8V376.9M30.5 357.0V373.4M31.5 356.3V362.1M32.5 355.7V359.7M34.5 355.7V363.9M36.5 357.4V362.8M41.5 370.5V384.9M46.5 410.2V421.8M50.5 429.0V443.6M51.5 426.1V434.1M52.5 424.9V428.9M53.5 419.1V429.0M54.5 417.3V422.3M55.5 408.1V420.6M57.5 418.7V436.8M60.5 424.3V430.4M64.5 425.2V433.4M65.5 421.8V427.5M66.5 417.3V424.5M67.5 404.6V419.9M68.5 391.5V406.0M69.5 390.0V396.0M70.5 386.8V393.7M71.5 385.2V393.0M72.5 384.0V390.9M73.5 369.6V387.8M74.5 368.7V376.9M75.5 368.3V373.4M77.5 367.7V376.1M78.5 367.8V371.8M79.5 365.6V370.1M81.5 366.4V378.2M82.5 359.3V371.1M83.5 358.1V363.0M85.5 346.4V362.5M86.5 344.5V354.5M88.5 349.9V358.8M89.5 336.5V354.3M90.5 337.6V353.5M95.5 374.1V378.0M96.5 371.0V378.1M97.5 365.0V385.2M104.5 400.5V402.6M105.5 395.8V403.7M106.5 394.8V400.0M107.5 384.8V398.7M108.5 372.8V386.0M110.5 360.3V379.3M111.5 354.0V363.8M112.5 352.7V362.6M116.5 363.2V367.7M117.5 361.2V367.0M120.5 347.3V369.6M121.5 345.2V357.6M122.5 336.0V352.9M123.5 330.5V342.2M124.5 330.4V334.7M126.5 335.1V344.0M127.5 325.3V340.0M128.5 324.5V329.9M129.5 321.3V325.9M130.5 320.4V325.7M132.5 316.5V325.8M133.5 313.3V326.4M134.5 316.5V326.4M135.5 306.0V324.2M136.5 279.1V315.0M144.5 307.0V322.5M146.5 303.5V314.7M147.5 302.0V307.1M148.5 295.9V303.6M149.5 287.1V301.0M150.5 285.2V291.3M152.5 286.8V290.8M153.5 275.7V290.7M154.5 266.5V279.7M156.5 261.1V273.9M157.5 258.0V264.0M158.5 258.3V266.5M159.5 255.0V260.6M160.5 245.1V260.6M161.5 239.9V249.8M162.5 228.6V244.0M163.5 223.8V233.0M167.5 220.0V247.9M171.5 263.1V275.4M174.5 278.4V299.2M176.5 276.4V295.5M177.5 267.7V284.8M178.5 263.7V276.4M179.5 266.4V273.1M181.5 272.0V283.6M183.5 273.7V282.7M184.5 251.0V276.7M186.5 237.9V254.4M188.5 241.3V254.5M189.5 231.0V248.7M192.5 232.0V237.5M193.5 227.8V238.3M195.5 214.0V240.0M196.5 207.8V223.5M197.5 209.0V213.8M198.5 207.1V214.9M200.5 216.8V225.3M203.5 212.3V223.6M204.5 209.6V219.2M211.5 250.7V263.0M215.5 255.0V271.0M216.5 250.0V257.9M217.5 242.7V254.4M218.5 242.5V250.4M220.5 236.7V249.7M221.5 235.2V241.4M223.5 235.0V243.2M224.5 236.3V242.3M226.5 231.5V244.5M227.5 222.8V234.1M229.5 224.7V233.0M230.5 217.8V229.4M232.5 219.7V234.6M233.5 216.2V224.6M234.5 209.0V218.9M235.5 207.5V211.7M241.5 224.9V232.8M243.5 225.2V234.0M247.5 233.1V242.0M249.5 242.1V249.4M261.5 320.2V332.1M262.5 315.3V324.3M263.5 309.9V320.1M265.5 302.3V315.4M268.5 304.3V328.5M269.5 303.6V306.7M270.5 301.0V307.8M273.5 307.6V317.6M281.5 316.0V336.8M285.5 332.3V340.5M293.5 372.4V379.8M294.5 370.8V375.5M295.5 366.8V374.1M302.5 369.6V391.1M304.5 379.2V396.1M311.5 437.7V445.0M313.5 418.1V447.5M314.5 416.3V428.6M315.5 419.0V427.6M316.5 413.3V425.8M317.5 406.4V420.4M319.5 412.4V420.4M320.5 406.6V419.7M321.5 390.9V413.7M330.5 445.5V451.6M332.5 432.4V454.3M337.5 456.1V473.2M340.5 476.0V494.1M345.5 495.7V525.0M348.5 492.8V521.5M349.5 488.7V495.3M350.5 487.1V493.6M351.5 486.8V490.9M353.5 485.4V496.2M354.5 480.6V489.4M355.5 474.3V482.1M356.5 473.2V480.0M357.5 470.5V481.0M358.5 469.5V479.5M361.5 470.0V483.3M362.5 458.7V472.3M365.5 470.6V483.2M366.5 466.1V478.6M368.5 480.9V488.7M370.5 480.3V492.1M375.5 484.5V498.1M376.5 478.9V489.0M378.5 478.7V496.8M380.5 480.6V488.5M384.5 490.7V496.5M388.5 504.0V512.6M397.5 552.9V563.2M398.5 541.8V556.2M399.5 535.3V543.9M400.5 530.0V542.5M401.5 529.8V539.4M402.5 531.5V537.8M403.5 530.2V538.7M405.5 533.3V543.5M407.5 543.4V551.2M408.5 535.9V546.3M411.5 553.6V561.3M412.5 547.6V559.0M413.5 532.2V553.8M414.5 528.8V537.6M415.5 524.0V533.5M416.5 519.0V529.9M417.5 520.0V524.4M419.5 516.2V527.5M420.5 504.5V520.8M422.5 504.7V514.2M423.5 490.0V509.8M424.5 487.0V492.4M425.5 481.6V491.8M426.5 475.7V487.0M427.5 473.9V480.0M430.5 482.6V488.1M436.5 492.0V508.7M437.5 488.0V510.3M439.5 487.9V495.5M440.5 486.4V490.0M441.5 474.7V489.8M442.5 475.3V480.5M443.5 470.3V476.9M445.5 478.1V484.6M446.5 466.7V480.7M447.5 466.5V471.8M448.5 456.0V468.6M450.5 450.8V464.7M458.5 476.9V491.9M459.5 474.4V479.3M460.5 471.9V479.3M461.5 467.7V476.5M462.5 467.4V473.8M463.5 465.4V470.6M464.5 465.8V469.6M472.5 486.4V495.7M476.5 522.4V534.8M477.5 517.6V525.2M478.5 515.8V524.4M479.5 510.4V520.1M480.5 507.6V515.8M481.5 504.4V511.4M482.5 502.5V512.8M483.5 504.1V507.8M486.5 503.6V517.3M487.5 506.7V513.0M493.5 513.1V523.6M494.5 514.5V518.3M495.5 513.7V518.7M497.5 510.2V523.0M498.5 509.3V514.4M499.5 499.8V514.1M509.5 541.6V546.9M511.5 537.9V545.1M513.5 534.1V542.1M514.5 524.3V538.8M516.5 526.0V528.5M520.5 528.7V531.9M525.5 540.6V545.4M529.5 553.1V561.7M531.5 553.1V565.3M532.5 551.1V558.4M533.5 548.2V553.1M534.5 546.4V553.1M539.5 551.2V558.1M542.5 564.3V572.1M544.5 564.1V568.9M547.5 560.8V575.8M553.5 589.3V598.9M563.5 635.2V639.7M564.5 630.8V637.7M565.5 614.6V637.9M566.5 609.3V621.8M567.5 604.7V616.9M581.5 673.5V686.2M584.5 671.7V683.3M585.5 666.3V675.8M586.5 660.6V668.3M587.5 657.6V664.1M588.5 657.6V663.4M589.5 656.3V662.3M590.5 655.2V660.2M591.5 653.8V660.2M595.5 654.7V672.0M598.5 663.4V673.1M599.5 642.5V664.9M600.5 637.5V652.9M601.5 630.2V646.5M602.5 612.9V644.1M603.5 605.5V617.6M604.5 606.1V617.8M605.5 594.4V607.8M606.5 592.4V599.1M607.5 588.9V600.2M608.5 579.9V598.6M609.5 582.5V588.5M611.5 552.6V604.0M612.5 549.2V569.6M613.5 528.3V563.8M614.5 518.2V535.8M616.5 501.7V539.2M617.5 500.0V511.8M618.5 488.9V503.1M622.5 516.7V537.5M625.5 549.0V559.3M626.5 538.4V558.4M627.5 534.6V544.4M628.5 519.6V540.7M630.5 521.2V532.3M631.5 520.9V529.0M632.5 507.8V524.8M633.5 505.4V511.3M634.5 504.3V511.3M639.5 516.9V533.6M648.5 571.0V580.5M650.5 575.8V586.9M651.5 568.4V582.1M658.5 595.4V602.1M661.5 601.3V608.8M664.5 608.4V615.6M665.5 607.5V615.1M669.5 617.4V630.0M673.5 631.2V644.1M674.5 625.2V634.2M677.5 622.6V641.4M679.5 620.0V628.3M680.5 611.1V627.7M681.5 601.6V616.5M683.5 606.4V614.3M684.5 586.3V610.7M687.5 580.6V600.2M689.5 569.2V592.5M690.5 564.2V575.9M691.5 560.6V570.8M693.5 558.7V572.7M696.5 558.3V566.7M699.5 560.2V569.2M700.5 539.0V565.8M702.5 524.0V548.2M703.5 510.5V529.4M704.5 506.0V516.3M705.5 506.0V510.6M707.5 503.8V514.9M708.5 504.6V510.7M716.5 551.3V574.0M718.5 542.8V560.0M719.5 542.8V553.8M722.5 562.3V571.7M726.5 597.9V610.4M730.5 594.8V611.0M731.5 595.0V602.0M732.5 590.5V602.2M733.5 590.7V597.4M734.5 581.4V595.9M735.5 578.5V592.3M736.5 575.9V589.2M741.5 594.0V605.3M743.5 602.3V615.2M748.5 615.0V621.5M757.5 650.1V664.2M758.5 645.1V655.7M760.5 644.9V657.8M761.5 626.1V652.2M762.5 626.4V637.1M766.5 645.2V655.0M770.5 639.5V656.5M771.5 641.1V645.8M772.5 633.3V642.3M773.5 635.8V640.2M775.5 617.0V642.7M776.5 616.5V624.3M777.5 611.6V623.8M778.5 587.0V617.6M779.5 585.7V597.1M786.5 601.7V626.8M788.5 601.5V614.4M789.5 596.7V603.7M790.5 578.3V605.5M791.5 573.5V583.8M792.5 568.6V575.5M794.5 576.4V585.5M796.5 558.5V582.8M798.5 570.2V575.3M803.5 585.7V594.4M805.5 586.3V594.0M807.5 578.6V591.0M808.5 575.0V585.3M811.5 573.2V590.4M812.5 575.3V581.0M814.5 571.4V580.7M815.5 566.8V576.8M816.5 557.6V569.7M817.5 551.9V564.2M818.5 552.0V557.2M820.5 544.3V559.7M821.5 543.6V548.2M822.5 539.8V548.0M823.5 537.7V546.2M824.5 536.3V541.6M831.5 560.7V572.1M835.5 585.1V588.7M837.5 586.4V593.6M838.5 576.5V590.8M839.5 575.2V580.8M840.5 572.4V580.5M842.5 577.9V583.3M843.5 567.6V582.0M846.5 578.9V586.5M850.5 574.7V589.1M854.5 578.2V591.1M855.5 573.8V591.9M856.5 572.9V577.9M857.5 567.9V577.1M858.5 558.3V576.3M860.5 565.5V575.4M861.5 546.9V570.2M862.5 545.1V550.0M863.5 543.9V551.1M866.5 550.1V553.5M867.5 536.2V552.9M868.5 532.7V538.2M872.5 537.0V551.8M877.5 550.9V567.7M878.5 545.5V558.7M879.5 525.9V551.0M885.5 553.4V570.0M888.5 555.2V560.0M894.5 567.4V578.0M896.5 574.6V588.8M899.5 582.5V586.7M900.5 574.8V586.6M903.5 565.2V584.3M907.5 573.3V583.1M909.5 578.0V586.6M910.5 567.5V582.0M914.5 572.4V585.4M915.5 571.8V576.8M922.5 584.2V592.7M923.5 579.1V586.5M924.5 577.0V590.0M925.5 573.0V581.0M927.5 580.1V584.8M928.5 571.0V583.3M930.5 573.6V578.4M931.5 571.3V579.0M933.5 572.8V578.4M935.5 571.1V579.6M936.5 568.2V575.5M938.5 574.1V580.4M939.5 562.9V577.1M941.5 554.6V570.9M942.5 551.3V559.8M943.5 551.2V554.8M944.5 543.4V555.3M945.5 536.0V546.2M946.5 528.8V541.0M947.5 524.9V532.5M948.5 519.4V530.4M950.5 513.8V528.8M951.5 513.2V521.4M952.5 505.2V520.1M953.5 499.4V513.4M954.5 496.5V506.3M956.5 493.5V509.0M957.5 490.7V500.9M958.5 483.9V495.4M959.5 479.2V489.0M960.5 470.4V487.3M961.5 471.2V476.9M962.5 466.3V476.3M963.5 461.8V471.9M964.5 459.7V469.3M965.5 452.5V466.3M966.5 448.2V455.8M967.5 438.6V452.6M968.5 432.8V445.4M969.5 432.4V437.4M970.5 422.5V435.7M971.5 410.5V428.5M973.5 414.8V422.6M974.5 402.1V422.6M975.5 369.3V409.0M979.5 391.7V408.2M980.5 387.5V400.4M982.5 398.4V413.8M985.5 416.6V431.7M986.5 403.0V439.4M987.5 400.8V414.3M988.5 398.2V409.2M990.5 406.6V419.8M992.5 400.9V417.0M993.5 399.0V405.3M994.5 391.9V402.7M997.5 399.6V413.8M998.5 400.9V410.3M1003.5 412.9V420.7M1005.5 407.3V419.2M1006.5 398.5V411.0M1007.5 394.4V406.0M1008.5 385.0V400.6M1010.5 392.8V408.8M1011.5 380.6V403.3M1012.5 374.5V389.2M1013.5 373.2V382.1M1014.5 371.5V377.4M1019.5 385.3V402.0M1022.5 378.4V401.2M1025.5 391.6V399.3M1028.5 395.8V416.5M1036.5 434.8V439.0M1039.5 432.2V447.4M1041.5 422.7V440.2M1042.5 415.9V429.0M1043.5 413.8V423.9M1045.5 423.0V432.9M1046.5 421.5V437.3M1048.5 411.3V428.4M1049.5 409.0V417.8M1050.5 402.3V414.5M1052.5 399.2V409.6M1056.5 410.3V419.7M1057.5 406.2V413.5M1059.5 413.8V429.5M1060.5 403.7V416.2M1062.5 415.1V421.7M1063.5 409.3V417.0M1064.5 404.3V416.4M1065.5 403.0V409.3M1066.5 397.1V406.9M1067.5 383.3V399.7M1068.5 365.3V392.4M1070.5 365.0V374.0M1072.5 356.0V370.6M1073.5 356.0V362.3M1074.5 352.6V358.3M1076.5 354.7V364.4M1079.5 360.2V380.8M1082.5 365.8V371.3M1083.5 360.5V367.6M1085.5 355.8V365.9M1088.5 363.5V369.3M1096.5 384.4V389.8M1100.5 398.7V404.5M1109.5 438.7V446.6M1111.5 429.9V446.6M1115.5 442.7V460.7M1117.5 448.0V455.3M1118.5 443.4V449.7M1119.5 439.7V449.5M1120.5 434.4V445.4M1122.5 430.1V441.5M1123.5 427.1V433.9M1129.5 444.2V450.1M1130.5 431.4V446.6M1133.5 449.6V454.7M1138.5 481.4V487.8M1139.5 473.0V487.1M1140.5 472.0V474.7M1141.5 470.6V475.4" stroke="#111" stroke-width="1" fill="none"/>
<path d="M16.5 377.9V379.1M17.5 373.0V377.9M24.5 378.8V387.8M25.5 373.5V378.8M27.5 372.7V376.4M28.5 370.8V372.7M30.5 357.9V372.8M31.5 357.0V358.2M32.5 357.0V358.2M34.5 357.0V359.5M36.5 360.1V362.5M41.5 374.7V381.9M46.5 413.6V418.1M50.5 431.6V440.3M51.5 428.0V431.6M52.5 427.1V428.3M53.5 420.2V427.1M54.5 419.2V420.4M55.5 416.2V419.2M57.5 420.9V425.9M60.5 426.9V428.6M64.5 425.8V430.1M65.5 423.2V425.8M66.5 419.4V423.2M67.5 405.0V419.4M68.5 394.5V405.0M69.5 390.9V394.5M70.5 390.0V391.2M71.5 387.5V390.0M72.5 387.0V388.2M73.5 373.2V387.0M74.5 371.6V373.2M75.5 370.6V371.8M77.5 371.1V372.3M78.5 368.8V371.1M79.5 366.8V368.8M81.5 368.1V377.6M82.5 361.7V368.1M83.5 359.6V361.7M85.5 350.5V360.2M86.5 346.4V350.5M88.5 353.9V355.7M89.5 351.6V353.9M90.5 341.2V351.6M95.5 375.4V376.6M96.5 371.4V375.4M97.5 368.6V371.4M104.5 400.9V402.1M105.5 399.0V400.9M106.5 396.3V399.0M107.5 385.2V396.3M108.5 374.2V385.2M110.5 361.8V376.3M111.5 359.4V361.8M112.5 354.2V359.4M116.5 364.2V365.4M117.5 361.5V364.2M120.5 352.5V368.4M121.5 350.6V352.5M122.5 338.2V350.6M123.5 331.8V338.2M124.5 330.8V332.0M126.5 337.8V342.2M127.5 327.4V337.8M128.5 325.1V327.4M129.5 323.4V325.1M130.5 322.8V324.0M132.5 320.8V325.1M133.5 318.5V320.8M134.5 318.1V319.3M135.5 308.7V318.1M136.5 284.3V308.7M144.5 311.0V320.8M146.5 306.7V313.0M147.5 302.9V306.7M148.5 300.0V302.9M149.5 289.8V300.0M150.5 289.3V290.5M152.5 288.6V290.3M153.5 278.6V288.6M154.5 269.5V278.6M156.5 263.1V273.0M157.5 262.3V263.5M158.5 258.7V262.3M159.5 257.8V259.0M160.5 247.0V257.8M161.5 240.3V247.0M162.5 232.2V240.3M163.5 226.2V232.2M167.5 225.0V242.1M171.5 265.0V270.5M174.5 282.2V288.7M176.5 281.2V292.4M177.5 273.1V281.2M178.5 269.1V273.1M179.5 267.6V269.1M181.5 275.5V281.8M183.5 274.6V281.3M184.5 251.4V274.6M186.5 241.6V251.5M188.5 245.7V252.1M189.5 234.4V245.7M192.5 235.4V237.2M193.5 229.0V235.4M195.5 219.0V235.5M196.5 212.9V219.0M197.5 210.6V212.9M198.5 209.2V210.6M200.5 219.8V223.6M203.5 214.2V222.1M204.5 213.0V214.2M211.5 254.1V259.3M215.5 256.2V269.1M216.5 251.5V256.2M217.5 247.9V251.5M218.5 244.9V247.9M220.5 240.9V248.6M221.5 239.9V241.1M223.5 239.2V241.7M224.5 237.1V239.2M226.5 233.7V242.3M227.5 227.5V233.7M229.5 227.4V229.9M230.5 219.9V227.4M232.5 222.8V233.6M233.5 217.4V222.8M234.5 210.5V217.4M235.5 209.3V210.5M241.5 227.0V230.1M243.5 228.4V231.1M247.5 236.6V237.8M249.5 245.9V247.1M261.5 322.9V331.2M262.5 319.1V322.9M263.5 311.8V319.1M265.5 309.8V312.5M268.5 304.7V323.5M269.5 304.4V305.6M270.5 304.0V305.2M273.5 309.5V314.0M281.5 319.0V334.2M285.5 334.4V336.8M293.5 373.2V379.4M294.5 372.0V373.2M295.5 368.4V372.0M302.5 374.5V390.1M304.5 383.1V391.4M311.5 441.1V442.6M313.5 423.8V443.3M314.5 421.8V423.8M315.5 421.5V422.7M316.5 418.0V421.5M317.5 407.9V418.0M319.5 415.3V418.8M320.5 409.9V415.3M321.5 393.6V409.9M330.5 446.3V448.4M332.5 437.5V451.4M337.5 459.6V470.8M340.5 482.1V492.6M345.5 498.3V522.9M348.5 494.5V515.1M349.5 491.6V494.5M350.5 489.6V491.6M351.5 487.7V489.6M353.5 487.2V495.3M354.5 481.6V487.2M355.5 478.5V481.6M356.5 475.5V478.5M357.5 475.1V476.3M358.5 471.1V475.1M361.5 471.3V480.7M362.5 462.1V471.3M365.5 475.0V480.0M366.5 468.3V475.0M368.5 481.3V484.4M370.5 481.4V489.9M375.5 488.1V497.6M376.5 480.3V488.1M378.5 479.1V493.3M380.5 481.5V486.0M384.5 492.3V493.5M388.5 509.6V510.8M397.5 555.0V559.9M398.5 543.0V555.0M399.5 537.4V543.0M400.5 534.5V537.4M401.5 533.8V535.0M402.5 533.1V534.3M403.5 532.4V533.6M405.5 537.1V542.5M407.5 544.3V549.8M408.5 537.9V544.3M411.5 554.5V556.8M412.5 550.1V554.5M413.5 535.5V550.1M414.5 530.9V535.5M415.5 526.0V530.9M416.5 522.7V526.0M417.5 521.2V522.7M419.5 520.4V522.8M420.5 509.1V520.4M422.5 507.2V511.8M423.5 491.7V507.2M424.5 489.2V491.7M425.5 484.1V489.2M426.5 477.8V484.1M427.5 477.7V478.9M430.5 483.6V486.6M436.5 497.7V505.3M437.5 489.2V497.7M439.5 488.3V491.8M440.5 487.9V489.1M441.5 477.5V487.9M442.5 475.8V477.5M443.5 472.6V475.8M445.5 479.5V482.1M446.5 470.4V479.5M447.5 467.5V470.4M448.5 459.0V467.5M450.5 453.2V462.9M458.5 478.2V488.3M459.5 477.0V478.2M460.5 474.1V477.0M461.5 470.4V474.1M462.5 468.4V470.4M463.5 467.8V469.0M464.5 467.3V468.5M472.5 489.8V491.5M476.5 523.5V528.0M477.5 520.4V523.5M478.5 516.5V520.4M479.5 513.7V516.5M480.5 510.9V513.7M481.5 508.1V510.9M482.5 505.3V508.1M483.5 504.7V505.9M486.5 511.3V515.7M487.5 509.4V511.3M493.5 516.0V523.1M494.5 515.2V516.4M495.5 514.0V515.2M497.5 510.6V519.7M498.5 510.4V511.6M499.5 503.3V510.4M509.5 542.9V545.3M511.5 539.1V544.3M513.5 536.9V540.2M514.5 526.3V536.9M516.5 526.4V527.7M520.5 529.6V531.3M525.5 542.9V544.1M529.5 555.2V558.8M531.5 555.8V562.8M532.5 552.5V555.8M533.5 550.4V552.5M534.5 549.6V550.8M539.5 552.5V557.4M542.5 565.8V569.0M544.5 565.0V567.3M547.5 561.8V572.5M553.5 592.5V596.6M563.5 636.5V638.4M564.5 634.0V636.5M565.5 617.4V634.0M566.5 612.7V617.4M567.5 608.5V612.7M581.5 675.6V681.0M584.5 672.5V682.3M585.5 666.7V672.5M586.5 663.3V666.7M587.5 661.3V663.3M588.5 660.3V661.5M589.5 658.8V660.3M590.5 656.5V658.8M591.5 655.0V656.5M595.5 658.2V668.9M598.5 663.8V672.4M599.5 647.9V663.8M600.5 639.0V647.9M601.5 636.4V639.0M602.5 615.3V636.4M603.5 610.0V615.3M604.5 606.6V610.0M605.5 597.9V606.6M606.5 596.7V597.9M607.5 591.5V596.7M608.5 587.6V591.5M609.5 585.1V587.6M611.5 559.9V597.1M612.5 559.3V560.5M613.5 531.8V559.3M614.5 522.0V531.8M616.5 506.2V536.3M617.5 501.0V506.2M618.5 493.1V501.0M622.5 520.6V532.4M625.5 553.1V556.3M626.5 539.5V553.1M627.5 537.9V539.5M628.5 524.2V537.9M630.5 525.1V531.5M631.5 522.8V525.1M632.5 508.5V522.8M633.5 507.7V508.9M634.5 505.3V507.7M639.5 519.6V528.8M648.5 575.1V576.3M650.5 581.3V585.8M651.5 569.3V581.3M658.5 599.4V600.6M661.5 601.8V607.1M664.5 612.4V613.6M665.5 609.4V612.4M669.5 621.7V628.8M673.5 632.5V641.2M674.5 629.5V632.5M677.5 625.1V637.5M679.5 623.0V626.5M680.5 613.7V623.0M681.5 604.6V613.7M683.5 606.8V611.0M684.5 591.7V606.8M687.5 584.1V597.4M689.5 571.4V588.9M690.5 566.1V571.4M691.5 561.4V566.1M693.5 561.9V569.8M696.5 562.2V564.5M699.5 560.9V565.9M700.5 544.4V560.9M702.5 529.0V545.9M703.5 515.5V529.0M704.5 508.4V515.5M705.5 507.1V508.4M707.5 506.8V510.4M708.5 506.0V507.2M716.5 553.0V569.6M718.5 550.4V556.3M719.5 543.5V550.4M722.5 565.5V569.3M726.5 599.4V608.4M730.5 598.1V605.3M731.5 595.9V598.1M732.5 593.2V595.9M733.5 591.5V593.2M734.5 586.0V591.5M735.5 583.2V586.0M736.5 576.6V583.2M741.5 595.7V602.5M743.5 605.8V611.8M748.5 619.2V620.4M757.5 651.5V658.9M758.5 647.4V651.5M760.5 647.3V652.5M761.5 633.8V647.3M762.5 631.6V633.8M766.5 650.0V653.9M770.5 642.2V651.0M771.5 641.7V642.9M772.5 636.4V641.7M773.5 636.1V637.3M775.5 621.0V641.9M776.5 618.5V621.0M777.5 617.1V618.5M778.5 592.5V617.1M779.5 589.7V592.5M786.5 603.4V623.6M788.5 602.1V613.0M789.5 600.2V602.1M790.5 581.7V600.2M791.5 574.7V581.7M792.5 569.4V574.7M794.5 578.8V581.5M796.5 561.5V578.9M798.5 571.4V572.6M803.5 586.4V591.3M805.5 586.9V590.2M807.5 582.1V587.3M808.5 579.7V582.1M811.5 577.1V589.9M812.5 576.6V577.8M814.5 576.0V577.2M815.5 569.4V576.0M816.5 561.9V569.4M817.5 555.6V561.9M818.5 555.4V556.6M820.5 547.3V556.8M821.5 546.0V547.3M822.5 543.2V546.0M823.5 540.3V543.2M824.5 537.7V540.3M831.5 564.9V570.0M835.5 586.4V587.6M837.5 589.5V590.8M838.5 579.5V589.5M839.5 578.8V580.0M840.5 576.0V578.8M842.5 579.1V580.3M843.5 570.0V579.1M846.5 581.2V584.1M850.5 575.4V587.5M854.5 578.6V589.9M855.5 577.1V578.6M856.5 573.9V577.1M857.5 571.5V573.9M858.5 558.6V571.5M860.5 567.9V572.1M861.5 548.7V567.9M862.5 546.3V548.7M863.5 546.1V547.3M866.5 551.1V552.3M867.5 536.8V551.1M868.5 533.3V536.8M872.5 541.5V551.1M877.5 554.1V564.2M878.5 549.5V554.1M879.5 544.3V549.5M885.5 554.5V565.5M888.5 555.5V557.0M894.5 571.4V576.1M896.5 578.3V586.2M899.5 583.5V586.1M900.5 575.8V583.5M903.5 567.4V581.3M907.5 576.9V582.3M909.5 580.9V582.1M910.5 569.8V580.9M914.5 574.7V582.3M915.5 572.2V574.7M922.5 585.5V589.5M923.5 581.1V585.5M924.5 577.9V581.1M925.5 576.1V577.9M927.5 580.8V582.0M928.5 572.1V580.8M930.5 576.5V578.0M931.5 572.6V576.5M933.5 573.6V577.4M935.5 573.5V579.1M936.5 568.7V573.5M938.5 576.4V578.7M939.5 566.0V576.4M941.5 556.5V568.3M942.5 553.0V556.5M943.5 551.8V553.0M944.5 543.9V551.8M945.5 537.9V543.9M946.5 531.8V537.9M947.5 526.8V531.8M948.5 520.9V526.8M950.5 515.0V524.7M951.5 514.7V515.9M952.5 510.5V514.7M953.5 501.3V510.5M954.5 497.8V501.3M956.5 497.7V508.1M957.5 491.7V497.7M958.5 486.0V491.7M959.5 483.0V486.0M960.5 474.8V483.0M961.5 473.2V474.8M962.5 468.4V473.2M963.5 465.8V468.4M964.5 462.9V465.8M965.5 454.2V462.9M966.5 451.7V454.2M967.5 442.5V451.7M968.5 435.8V442.5M969.5 434.5V435.8M970.5 426.5V434.5M971.5 411.3V426.5M973.5 418.3V419.5M974.5 404.3V418.3M975.5 380.4V404.3M979.5 397.0V407.0M980.5 392.0V397.0M982.5 400.3V408.2M985.5 418.3V427.5M986.5 410.1V418.3M987.5 407.5V410.1M988.5 404.8V407.5M990.5 413.0V415.8M992.5 402.9V414.1M993.5 399.3V402.9M994.5 393.7V399.3M997.5 405.3V413.1M998.5 401.6V405.3M1003.5 415.2V418.6M1005.5 408.4V418.5M1006.5 400.7V408.4M1007.5 395.6V400.7M1008.5 390.7V395.6M1010.5 397.6V403.5M1011.5 383.2V397.6M1012.5 376.8V383.2M1013.5 374.2V376.8M1014.5 373.4V374.6M1019.5 386.3V398.6M1022.5 395.1V396.7M1025.5 397.4V398.8M1028.5 401.9V413.6M1036.5 437.4V438.6M1039.5 434.2V445.9M1041.5 426.5V438.7M1042.5 420.2V426.5M1043.5 418.3V420.2M1045.5 427.4V432.3M1046.5 422.9V427.4M1048.5 413.7V425.1M1049.5 410.9V413.7M1050.5 405.0V410.9M1052.5 400.8V406.8M1056.5 412.4V417.6M1057.5 410.6V412.4M1059.5 414.9V424.5M1060.5 408.2V414.9M1062.5 415.8V417.9M1063.5 412.5V415.8M1064.5 408.4V412.5M1065.5 405.0V408.4M1066.5 398.5V405.0M1067.5 386.6V398.5M1068.5 370.9V386.6M1070.5 365.4V372.8M1072.5 359.8V368.0M1073.5 357.6V359.8M1074.5 356.5V357.7M1076.5 358.4V359.6M1079.5 363.9V375.8M1082.5 366.3V367.9M1083.5 363.6V366.3M1085.5 358.5V365.0M1088.5 365.7V366.9M1096.5 385.1V388.9M1100.5 400.9V402.8M1109.5 439.6V444.4M1111.5 433.2V443.0M1115.5 446.5V447.7M1117.5 448.3V454.8M1118.5 447.1V448.3M1119.5 443.0V447.1M1120.5 438.2V443.0M1122.5 431.3V440.1M1123.5 428.8V431.3M1129.5 445.4V446.9M1130.5 443.8V445.4M1133.5 451.7V453.2M1138.5 483.4V486.7M1139.5 473.7V483.4M1140.5 473.1V474.3M1141.5 471.9V473.1" stroke="#111" stroke-width="1.4" fill="none"/>
<path d="M926.2 592.8L975.1 370.3" stroke="#3a9a2a" stroke-width="2" stroke-dasharray="4,2.5" fill="none"/>
<path d="M1142.5 487L1190 267" stroke="#3a9a2a" stroke-width="2" stroke-dasharray="4,2.5" fill="none"/>
<path d="M959.7 379L1200 261.8" stroke="#e04848" stroke-width="1.2" stroke-dasharray="4,3" fill="none"/>
<path d="M975.1 370.3L1168 311" stroke="#444" stroke-width="1.2" stroke-dasharray="4,3" fill="none"/>
<path d="M970.4 290.9L994.4 367.8" stroke="#4a4af0" stroke-width="1.3" stroke-dasharray="4,3" fill="none"/>
<path d="M975.1 370.3L998.2 448.4" stroke="#4a4af0" stroke-width="1.3" stroke-dasharray="4,3" fill="none"/>
<path d="M975.1 370.3L1040 455.8" stroke="#d83030" stroke-width="1.3" fill="none"/>
<path d="M926 593L1200 460" stroke="#e04848" stroke-width="1.3" stroke-dasharray="4,3" fill="none"/>
<path d="M999.7 447.1L1162.6 474.3" stroke="#333" stroke-width="1.1" fill="none"/>
<ellipse cx="348.0" cy="522.0" rx="9.5" ry="10.5" fill="none" stroke="#222" stroke-width="1.1"/>
<ellipse cx="395.5" cy="571.5" rx="9.8" ry="10.0" fill="none" stroke="#222" stroke-width="1.1"/>
<ellipse cx="581.8" cy="679.4" rx="12.7" ry="9.9" fill="none" stroke="#222" stroke-width="1.1"/>
<ellipse cx="925.3" cy="590.5" rx="16.5" ry="9.8" fill="none" stroke="#222" stroke-width="1.1"/>
<ellipse cx="1040.0" cy="451.0" rx="9.0" ry="9.0" fill="none" stroke="#d01010" stroke-width="2.2"/>
<ellipse cx="1142.0" cy="486.2" rx="5.0" ry="5.0" fill="none" stroke="#d01010" stroke-width="2.2"/>
<ellipse cx="1081.8" cy="342.8" rx="6.3" ry="6.3" fill="none" stroke="#111" stroke-width="2"/>
<ellipse cx="1180.0" cy="306.0" rx="15.0" ry="5.5" fill="none" stroke="#111" stroke-width="2"/>
<ellipse cx="1197.0" cy="233.0" rx="25.0" ry="35.0" fill="none" stroke="#111" stroke-width="2"/>
<polygon points="624.0,447.0 636.0,478.0 629.0,447.0" fill="#fff" stroke="#9a9a9a" stroke-width="1"/>
<rect x="594.5" y="432.5" width="35.0" height="16.0" fill="#fff" stroke="#9a9a9a" stroke-width="1"/>
<path d="M630.7 434.5V449.7H596.5" stroke="#d0d0d0" stroke-width="1.5" fill="none"/>
<text x="596" y="444.5" font-size="11.3" font-weight="bold" fill="#111" textLength="25" lengthAdjust="spacingAndGlyphs">89.11</text>
<polygon points="710.0,471.0 711.0,481.5 722.0,471.0" fill="#fff" stroke="#9a9a9a" stroke-width="1"/>
<rect x="704.5" y="456.5" width="35.0" height="16.0" fill="#fff" stroke="#9a9a9a" stroke-width="1"/>
<path d="M740.7 458.5V473.7H706.5" stroke="#d0d0d0" stroke-width="1.5" fill="none"/>
<text x="706.5" y="468.3" font-size="11.3" font-weight="bold" fill="#111" textLength="25" lengthAdjust="spacingAndGlyphs">88.71</text>
<polygon points="1093.7,623 1126.4,470.5 1104,594 1142.2,497.6 1099.3,630" fill="#fff" stroke="#9a9a9a" stroke-width="1"/>
<rect x="863.5" y="622.5" width="235.5" height="52" fill="#fff" stroke="#9a9a9a" stroke-width="1"/>
<path d="M1100.3 624.5V675.7H865.5" stroke="#d0d0d0" stroke-width="1.5" fill="none"/>
<text x="865.5" y="633.9" font-size="11" font-weight="bold" fill="#111" textLength="204" lengthAdjust="spacingAndGlyphs">Very strong quadruple combination of</text>
<text x="865.5" y="646.1" font-size="11" font-weight="bold" fill="#111" textLength="231" lengthAdjust="spacingAndGlyphs">long-term support levels is more important</text>
<text x="865.5" y="658.3" font-size="11" font-weight="bold" fill="#111" textLength="231" lengthAdjust="spacingAndGlyphs">than the declining support / resistance line</text>
<text x="865.5" y="670.5" font-size="11" font-weight="bold" fill="#111" textLength="230" lengthAdjust="spacingAndGlyphs">based on the mid-2015 and early-2016 lows.</text>
<path d="M13 196H116V205.5H71.5V230H13Z" fill="#fff"/>
<path d="M15.5 197.5V204.5M19.5 198V204.5" stroke="#111" stroke-width="1"/><path d="M14.5 199h2v4h-2zM18.5 200h2v3h-2z" fill="#111"/>
<text x="24.4" y="203.5" font-size="8" fill="#222" style="font-family:Liberation Mono,monospace" textLength="91" lengthAdjust="spacingAndGlyphs">$USD (Weekly) 89.81</text>
<path d="M14.5 209H21" stroke="#3030a0" stroke-width="1.5"/>
<text x="23" y="212" font-size="8" fill="#3030a0" textLength="44.5" lengthAdjust="spacingAndGlyphs">MA(50) 94.42</text>
<path d="M14.5 217H21" stroke="#d02040" stroke-width="1.5"/>
<text x="23" y="220" font-size="8" fill="#d02040" textLength="49" lengthAdjust="spacingAndGlyphs">MA(200) 94.08</text>
<path d="M14.5 228V223.5M16.5 228V222.5M18.5 228V224M20.5 228V223" stroke="#666" stroke-width="1.5"/>
<text x="23" y="228" font-size="8" fill="#555" textLength="47.5" lengthAdjust="spacingAndGlyphs">Volume undef</text>
<polyline points="13.0,864.8 14.2,864.7 15.4,864.5 16.6,863.5 17.8,862.6 19.0,863.2 20.2,863.6 21.4,863.5 22.6,863.4 23.8,864.3 25.0,864.9 26.2,864.4 27.4,864.7 28.6,865.0 29.8,864.8 31.0,864.3 32.2,864.5 33.4,865.1 34.6,865.4 35.8,865.5 37.0,865.0 38.2,864.9 39.4,865.1 40.6,865.3 41.8,865.4 43.0,866.3 44.2,865.6 45.4,866.5 46.6,865.9 47.8,866.4 49.0,865.9 50.2,866.1 51.4,865.9 52.6,865.3 53.8,866.0 55.0,866.4 56.2,865.9 57.4,866.3 58.6,866.2 59.8,866.8 61.0,865.8 62.2,865.8 63.4,865.6 64.6,866.1 65.8,866.6 67.0,867.0 68.2,866.8 69.4,866.5 70.6,866.9 71.8,866.2 73.0,866.0 74.2,866.7 75.4,866.6 76.6,867.4 77.8,866.7 79.0,866.9 80.2,866.8 81.4,866.5 82.6,866.5 83.8,866.7 85.0,867.2 86.2,867.7 87.4,868.0 88.6,867.8 89.8,868.3 91.0,868.3 92.2,869.0 93.4,868.2 94.6,868.3 95.8,868.3 97.0,868.1 98.2,868.7 99.4,868.1 100.6,867.7 101.8,865.3 103.0,863.0 104.2,863.1 105.4,863.5 106.6,863.6 107.8,863.5 109.0,864.9 110.2,864.9 111.4,864.3 112.6,864.6 113.8,864.5 115.0,864.1 116.2,863.8 117.4,864.3 118.6,863.8 119.8,863.6 121.0,864.1 122.2,863.6 123.4,863.3 124.6,863.1 125.8,863.9 127.0,864.5 128.2,864.7 129.4,864.8 130.6,864.8 131.8,865.8 133.0,866.0 134.2,866.5 135.4,866.2 136.6,866.6 137.8,865.9 139.0,865.8 140.2,866.8 141.4,867.0 142.6,867.1 143.8,867.0 145.0,866.9 146.2,866.4 147.4,866.2 148.6,866.7 149.8,867.1 151.0,866.7 152.2,867.1 153.4,866.6 154.6,867.0 155.8,866.6 157.0,866.9 158.2,866.8 159.4,867.1 160.6,866.7 161.8,867.1 163.0,867.4 164.2,867.0 165.4,867.1 166.6,867.6 167.8,867.8 169.0,868.0 170.2,868.4 171.4,868.4 172.6,867.9 173.8,867.9 175.0,868.6 176.2,868.6 177.4,868.9 178.6,868.5 179.8,868.5 181.0,869.2 182.2,869.4 183.4,869.3 184.6,868.4 185.8,868.5 187.0,867.7 188.2,868.5 189.4,868.9 190.6,868.7 191.8,867.9 193.0,868.2 194.2,867.4 195.4,867.8 196.6,867.5 197.8,866.7 199.0,867.4 200.2,867.1 201.4,867.5 202.6,867.4 203.8,867.2 205.0,867.5 206.2,866.6 207.4,867.1 208.6,866.6 209.8,865.8 211.0,865.8 212.2,865.4 213.4,865.1 214.6,865.7 215.8,865.3 217.0,865.1 218.2,865.3 219.4,865.4 220.6,866.4 221.8,866.9 223.0,867.2 224.2,867.6 225.4,867.0 226.6,867.2 227.8,866.7 229.0,867.3 230.2,867.5 231.4,867.2 232.6,866.2 233.8,865.4 235.0,866.0 236.2,865.7 237.4,865.5 238.6,865.6 239.8,864.6 241.0,864.7 242.2,864.3 243.4,864.4 244.6,864.0 245.8,863.2 247.0,863.8 248.2,863.1 249.4,863.3 250.6,863.4 251.8,862.5 253.0,862.6 254.2,862.1 255.4,861.5 256.6,861.1 257.8,862.0 259.0,861.7 260.2,861.7 261.4,861.7 262.6,861.0 263.8,861.7 265.0,862.0 266.2,862.4 267.4,861.9 268.6,861.4 269.8,861.3 271.0,861.8 272.2,862.0 273.4,861.7 274.6,861.7 275.8,861.2 277.0,862.0 278.2,861.5 279.4,861.1 280.6,861.2 281.8,860.2 283.0,860.3 284.2,859.7 285.4,859.9 286.6,858.8 287.8,858.4 289.0,858.5 290.2,858.3 291.4,858.5 292.6,859.0 293.8,858.9 295.0,859.3 296.2,859.1 297.4,860.2 298.6,860.2 299.8,861.2 301.0,860.9 302.2,860.7 303.4,860.4 304.6,859.4 305.8,859.6 307.0,858.9 308.2,859.2 309.4,859.1 310.6,858.8 311.8,858.9 313.0,858.3 314.2,858.2 315.4,858.5 316.6,857.5 317.8,856.8 319.0,856.8 320.2,856.9 321.4,856.3 322.6,856.1 323.8,856.7 325.0,856.3 326.2,855.6 327.4,855.1 328.6,855.3 329.8,854.8 331.0,854.8 332.2,854.8 333.4,854.5 334.6,854.4 335.8,854.6 337.0,853.5 338.2,854.1 339.4,853.3 340.6,852.5 341.8,853.0 343.0,852.8 344.2,852.9 345.4,852.6 346.6,853.3 347.8,853.1 349.0,853.7 350.2,853.3 351.4,853.7 352.6,854.1 353.8,854.1 355.0,854.4 356.2,854.1 357.4,855.0 358.6,855.6 359.8,855.4 361.0,855.9 362.2,856.7 363.4,856.3 364.6,856.6 365.8,856.7 367.0,855.5 368.2,855.0 369.4,854.3 370.6,854.0 371.8,853.5 373.0,853.7 374.2,853.3 375.4,853.0 376.6,852.9 377.8,852.6 379.0,852.9 380.2,852.9 381.4,851.9 382.6,851.3 383.8,850.6 385.0,850.5 386.2,850.0 387.4,850.5 388.6,850.7 389.8,851.0 391.0,849.9 392.2,848.9 393.4,849.4 394.6,849.7 395.8,850.9 397.0,850.9 398.2,851.1 399.4,851.1 400.6,852.5 401.8,852.8 403.0,852.4 404.2,852.0 405.4,852.1 406.6,852.2 407.8,851.6 409.0,850.7 410.2,850.5 411.4,851.4 412.6,851.3 413.8,851.7 415.0,851.9 416.2,852.0 417.4,852.3 418.6,852.1 419.8,852.6 421.0,853.2 422.2,852.4 423.4,852.3 424.6,853.0 425.8,853.6 427.0,852.5 428.2,852.8 429.4,852.4 430.6,852.2 431.8,851.4 433.0,850.2 434.2,849.5 435.4,849.5 436.6,849.2 437.8,848.1 439.0,847.8 440.2,847.6 441.4,847.9 442.6,847.2 443.8,847.5 445.0,847.6 446.2,848.1 447.4,847.5 448.6,846.2 449.8,845.8 451.0,844.7 452.2,844.3 453.4,843.1 454.6,842.3 455.8,841.9 457.0,840.2 458.2,839.8 459.4,838.2 460.6,838.8 461.8,838.3 463.0,839.1 464.2,839.2 465.4,839.1 466.6,839.5 467.8,838.1 469.0,836.3 470.2,834.0 471.4,832.5 472.6,830.6 473.8,829.6 475.0,826.9 476.2,825.3 477.4,827.4 478.6,830.8 479.8,832.8 481.0,835.5 482.2,836.4 483.4,834.0 484.6,832.3 485.8,829.7 487.0,827.9 488.2,828.4 489.4,829.9 490.6,831.8 491.8,832.2 493.0,833.3 494.2,834.8 495.4,835.4 496.6,836.0 497.8,835.7 499.0,834.9 500.2,834.8 501.4,834.4 502.6,832.8 503.8,832.1 505.0,831.1 506.2,829.6 507.4,829.8 508.6,831.3 509.8,831.4 511.0,832.2 512.2,833.1 513.4,832.7 514.6,832.4 515.8,830.4 517.0,829.1 518.2,828.5 519.4,826.5 520.6,826.0 521.8,825.6 523.0,825.9 524.2,825.2 525.4,825.0 526.6,825.0 527.8,824.7 529.0,824.8 530.2,825.4 531.4,826.5 532.6,826.7 533.8,828.1 535.0,828.5 536.2,828.6 537.4,828.4 538.6,829.0 539.8,827.8 541.0,828.2 542.2,827.2 543.4,827.9 544.6,827.3 545.8,827.1 547.0,827.3 548.2,825.6 549.4,824.4 550.6,824.5 551.8,824.1 553.0,823.9 554.2,821.8 555.4,820.1 556.6,817.7 557.8,816.1 559.0,814.1 560.2,813.1 561.4,812.8 562.6,812.5 563.8,813.2 565.0,812.3 566.2,811.7 567.4,809.9 568.6,807.5 569.8,805.1 571.0,804.7 572.2,804.2 573.4,804.2 574.6,802.9 575.8,802.0 577.0,802.0 578.2,799.0 579.4,798.2 580.6,798.6 581.8,800.8 583.0,802.7 584.2,802.8 585.4,804.6 586.6,805.0 587.8,804.5 589.0,806.4 590.2,806.9 591.4,807.8 592.6,806.5 593.8,803.8 595.0,803.6 596.2,801.2 597.4,799.4 598.6,800.1 599.8,803.2 601.0,807.2 602.2,811.7 603.4,814.1 604.6,813.6 605.8,811.6 607.0,810.8 608.2,810.1 609.4,809.3 610.6,809.0 611.8,811.5 613.0,815.8 614.2,818.4 615.4,821.1 616.6,821.5 617.8,820.2 619.0,818.8 620.2,817.0 621.4,814.8 622.6,813.0 623.8,811.2 625.0,808.6 626.2,808.1 627.4,807.1 628.6,805.1 629.8,803.7 631.0,800.8 632.2,799.2 633.4,796.3 634.6,798.6 635.8,800.7 637.0,803.1 638.2,805.0 639.4,807.0 640.6,805.9 641.8,805.3 643.0,803.7 644.2,801.9 645.4,800.5 646.6,800.4 647.8,799.9 649.0,800.5 650.2,801.5 651.4,801.3 652.6,801.7 653.8,802.7 655.0,801.5 656.2,800.9 657.4,799.8 658.6,798.9 659.8,799.7 661.0,798.5 662.2,799.2 663.4,797.9 664.6,797.5 665.8,795.1 667.0,793.0 668.2,791.6 669.4,789.0 670.6,787.8 671.8,785.9 673.0,782.7 674.2,782.7 675.4,780.2 676.6,776.6 677.8,779.9 679.0,780.0 680.2,780.7 681.4,780.9 682.6,781.8 683.8,784.7 685.0,786.5 686.2,787.7 687.4,786.8 688.6,785.3 689.8,786.0 691.0,784.1 692.2,784.4 693.4,783.7 694.6,780.3 695.8,780.3 697.0,777.0 698.2,777.0 699.4,776.7 700.6,776.0 701.8,774.9 703.0,775.0 704.2,772.5 705.4,772.2 706.6,770.7 707.8,770.1 709.0,769.9 710.2,772.6 711.4,774.2 712.6,776.3 713.8,776.3 715.0,774.6 716.2,774.0 717.4,772.6 718.6,770.2 719.8,767.3 721.0,767.1 722.2,764.3 723.4,760.9 724.6,759.2 725.8,759.8 727.0,761.0 728.2,760.5 729.4,760.0 730.6,760.7 731.8,760.3 733.0,758.5 734.2,758.1 735.4,759.3 736.6,758.4 737.8,757.2 739.0,758.8 740.2,760.5 741.4,759.5 742.6,759.6 743.8,759.7 745.0,756.2 746.2,753.8 747.4,753.3 748.6,751.9 749.8,753.1 751.0,752.9 752.2,749.7 753.4,748.6 754.6,746.5 755.8,742.5 757.0,743.6 758.2,742.0 759.4,741.0 760.6,742.4 761.8,741.5 763.0,743.3 764.2,744.3 765.4,746.2 766.6,742.2 767.8,740.6 769.0,738.1 770.2,733.9 771.4,725.5 772.6,718.3 773.8,712.4 775.0,705.7 776.2,712.9 777.4,718.9 778.6,723.9 779.8,730.8 781.0,731.9 782.2,726.7 783.4,723.2 784.6,718.4 785.8,715.0 787.0,712.7 788.2,715.9 789.4,720.4 790.6,725.4 791.8,733.7 793.0,740.6 794.2,736.0 795.4,731.8 796.6,725.2 797.8,722.2 799.0,720.2 800.2,720.3 801.4,716.8 802.6,719.0 803.8,721.9 805.0,725.5 806.2,728.4 807.4,727.6 808.6,729.8 809.8,731.3 811.0,731.2 812.2,728.8 813.4,732.1 814.6,736.9 815.8,740.4 817.0,739.4 818.2,735.2 819.4,736.4 820.6,736.1 821.8,734.3 823.0,736.4 824.2,737.0 825.4,737.7 826.6,735.1 827.8,734.5 829.0,730.8 830.2,727.1 831.4,726.1 832.6,724.1 833.8,721.0 835.0,719.6 836.2,720.1 837.4,720.6 838.6,724.2 839.8,725.3 841.0,729.0 842.2,724.0 843.4,723.0 844.6,722.4 845.8,723.2 847.0,726.9 848.2,728.0 849.4,728.7 850.6,729.8 851.8,729.4 853.0,730.0 854.2,731.5 855.4,727.8 856.6,728.4 857.8,733.2 859.0,733.0 860.2,737.4 861.4,735.3 862.6,736.4 863.8,737.4 865.0,738.2 866.2,743.4 867.4,748.2 868.6,752.9 869.8,753.8 871.0,755.0 872.2,754.9 873.4,755.9 874.6,758.1 875.8,758.7 877.0,759.9 878.2,770.9 879.4,772.2 880.6,769.1 881.8,766.3 883.0,765.3 884.2,761.3 885.4,759.5 886.6,758.3 887.8,758.1 889.0,756.7 890.2,757.6 891.4,759.7 892.6,763.1 893.8,762.7 895.0,765.4 896.2,765.8 897.4,767.0 898.6,769.4 899.8,768.1 901.0,768.8 902.2,769.0 903.4,769.5 904.6,770.9 905.8,772.9 907.0,772.5 908.2,770.2 909.4,770.9 910.6,769.9 911.8,767.3 913.0,766.9 914.2,765.8 915.4,761.9 916.6,761.6 917.8,761.0 919.0,760.6 920.2,760.3 921.4,764.1 922.6,766.1 923.8,764.4 925.0,766.1 926.2,767.2 927.4,767.5 928.6,768.6 929.8,769.9 931.0,768.4 932.2,768.0 933.4,767.6 934.6,764.6 935.8,763.8 937.0,762.8 938.2,764.5 939.4,764.8 940.6,764.3 941.8,764.4 943.0,765.9 944.2,765.7 945.4,768.7 946.6,770.8 947.8,770.1 949.0,771.8 950.2,773.0 951.4,772.3 952.6,774.3 953.8,775.6 955.0,775.0 956.2,774.3 957.4,774.7 958.6,775.8 959.8,773.9 961.0,773.4 962.2,770.0 963.4,767.2 964.6,765.8 965.8,767.2 967.0,768.1 968.2,769.4 969.4,773.6 970.6,773.4 971.8,774.4 973.0,773.0 974.2,772.6 975.4,773.7 976.6,775.0 977.8,774.0 979.0,773.5 980.2,772.3 981.4,772.9 982.6,773.0 983.8,775.2 985.0,776.2 986.2,777.3 987.4,777.2 988.6,778.2 989.8,777.7 991.0,778.8 992.2,779.7 993.4,780.6 994.6,783.2 995.8,783.0 997.0,782.3 998.2,781.6 999.4,782.8 1000.6,782.5 1001.8,781.6 1003.0,780.6 1004.2,781.5 1005.4,781.8 1006.6,781.1 1007.8,782.1 1009.0,784.0 1010.2,783.8 1011.4,784.2 1012.6,784.5 1013.8,786.2 1015.0,787.7 1016.2,786.8 1017.4,787.3 1018.6,789.4 1019.8,788.3 1021.0,784.8 1022.2,783.0 1023.4,781.0 1024.6,776.9 1025.8,772.4 1027.0,770.5 1028.2,771.0 1029.4,771.8 1030.6,771.2 1031.8,769.5 1033.0,769.2 1034.2,768.0 1035.4,767.8 1036.6,767.7 1037.8,769.0 1039.0,769.6 1040.2,769.2 1041.4,766.9 1042.6,767.0 1043.8,763.5 1045.0,764.1 1046.2,762.9 1047.4,762.7 1048.6,761.0 1049.8,762.7 1051.0,760.1 1052.2,761.9 1053.4,762.9 1054.6,761.8 1055.8,763.1 1057.0,761.6 1058.2,763.0 1059.4,762.8 1060.6,762.6 1061.8,762.4 1063.0,766.4 1064.2,769.5 1065.4,769.9 1066.6,773.9 1067.8,773.9 1069.0,775.0 1070.2,776.4 1071.4,778.4 1072.6,781.1 1073.8,782.8 1075.0,781.1 1076.2,778.7 1077.4,776.0 1078.6,773.9 1079.8,773.7 1081.0,773.2 1082.2,772.0 1083.4,772.6 1084.6,770.8 1085.8,769.7 1087.0,769.1 1088.2,767.7 1089.4,769.5 1090.6,769.1 1091.8,768.5 1093.0,767.5 1094.2,767.1 1095.4,767.3 1096.6,768.2 1097.8,768.8 1099.0,771.1 1100.2,771.2 1101.4,770.2 1102.6,769.3 1103.8,769.4 1105.0,770.3 1106.2,770.6 1107.4,770.6 1108.6,767.6 1109.8,767.3 1111.0,765.3 1112.2,763.9 1113.4,762.5 1114.6,760.4 1115.8,760.5 1117.0,763.3 1118.2,765.4 1119.4,765.8 1120.6,768.1 1121.8,769.0 1123.0,767.7 1124.2,766.3 1125.4,767.5 1126.6,768.6 1127.8,767.8 1129.0,766.9 1130.2,766.3 1131.4,763.6 1132.6,764.1 1133.8,763.2 1135.0,760.8 1136.2,760.9 1137.4,760.2 1138.6,759.6 1139.8,759.2" fill="none" stroke="#f07020" stroke-width="1.25" stroke-linejoin="round"/>
<rect x="13" y="702" width="69" height="10" fill="#fff"/>
<path d="M14.5 706.5H21.5" stroke="#f07020" stroke-width="2"/>
<text x="24" y="709.5" font-size="7.6" fill="#222" style="font-family:Liberation Mono,monospace" textLength="57" lengthAdjust="spacingAndGlyphs">$GOLD 1330.30</text>
</svg></body></html>
